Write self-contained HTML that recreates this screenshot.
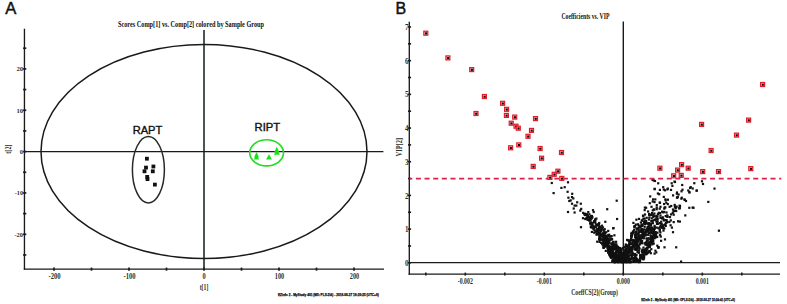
<!DOCTYPE html>
<html><head><meta charset="utf-8"><style>
html,body{margin:0;padding:0;background:#fff;}
body{width:787px;height:304px;overflow:hidden;font-family:"Liberation Sans",sans-serif;}
svg{display:block;}
</style></head><body>
<svg width="787" height="304" viewBox="0 0 787 304" shape-rendering="auto">
<text x="5.2" y="13.8" font-family="Liberation Sans" font-size="16.6" fill="#111" stroke="#111" stroke-width="0.45">A</text>
<text x="118" y="27.1" font-family="Liberation Serif" font-weight="bold" font-size="7.2" fill="#111" textLength="146" lengthAdjust="spacingAndGlyphs">Scores Comp[1] vs. Comp[2] colored by Sample Group</text>
<line x1="24.45" y1="28.7" x2="24.45" y2="269.75" stroke="#1a1a1a" stroke-width="1.35"/>
<line x1="23.8" y1="269.1" x2="384" y2="269.1" stroke="#1a1a1a" stroke-width="1.35"/>
<line x1="204" y1="30" x2="204" y2="269.2" stroke="#1e2a26" stroke-width="1.6"/>
<line x1="24.3" y1="151.6" x2="383.4" y2="151.6" stroke="#1a1a1a" stroke-width="1.45"/>
<line x1="23.1" y1="254.97" x2="26.3" y2="254.97" stroke="#1a1a1a" stroke-width="1.7"/>
<line x1="23.1" y1="234.30" x2="26.3" y2="234.30" stroke="#1a1a1a" stroke-width="1.7"/>
<line x1="23.1" y1="213.62" x2="26.3" y2="213.62" stroke="#1a1a1a" stroke-width="1.7"/>
<line x1="23.1" y1="192.95" x2="26.3" y2="192.95" stroke="#1a1a1a" stroke-width="1.7"/>
<line x1="23.1" y1="172.27" x2="26.3" y2="172.27" stroke="#1a1a1a" stroke-width="1.7"/>
<line x1="23.1" y1="151.60" x2="26.3" y2="151.60" stroke="#1a1a1a" stroke-width="1.7"/>
<line x1="23.1" y1="130.93" x2="26.3" y2="130.93" stroke="#1a1a1a" stroke-width="1.7"/>
<line x1="23.1" y1="110.25" x2="26.3" y2="110.25" stroke="#1a1a1a" stroke-width="1.7"/>
<line x1="23.1" y1="89.57" x2="26.3" y2="89.57" stroke="#1a1a1a" stroke-width="1.7"/>
<line x1="23.1" y1="68.90" x2="26.3" y2="68.90" stroke="#1a1a1a" stroke-width="1.7"/>
<line x1="23.1" y1="48.22" x2="26.3" y2="48.22" stroke="#1a1a1a" stroke-width="1.7"/>
<text x="23.0" y="71.35" text-anchor="end" font-family="Liberation Serif" font-weight="bold" font-size="7" fill="#2a302c" textLength="6.6" lengthAdjust="spacingAndGlyphs">20</text>
<text x="23.0" y="112.70" text-anchor="end" font-family="Liberation Serif" font-weight="bold" font-size="7" fill="#2a302c" textLength="6.6" lengthAdjust="spacingAndGlyphs">10</text>
<text x="23.0" y="154.05" text-anchor="end" font-family="Liberation Serif" font-weight="bold" font-size="7" fill="#2a302c" textLength="3.2" lengthAdjust="spacingAndGlyphs">0</text>
<text x="23.0" y="195.40" text-anchor="end" font-family="Liberation Serif" font-weight="bold" font-size="7" fill="#2a302c" textLength="8.2" lengthAdjust="spacingAndGlyphs">-10</text>
<text x="23.0" y="236.75" text-anchor="end" font-family="Liberation Serif" font-weight="bold" font-size="7" fill="#2a302c" textLength="8.6" lengthAdjust="spacingAndGlyphs">-20</text>
<line x1="54.00" y1="267.6" x2="54.00" y2="270.7" stroke="#1a1a1a" stroke-width="1.7"/>
<line x1="91.50" y1="267.6" x2="91.50" y2="270.7" stroke="#1a1a1a" stroke-width="1.7"/>
<line x1="129.00" y1="267.6" x2="129.00" y2="270.7" stroke="#1a1a1a" stroke-width="1.7"/>
<line x1="166.50" y1="267.6" x2="166.50" y2="270.7" stroke="#1a1a1a" stroke-width="1.7"/>
<line x1="204.00" y1="267.6" x2="204.00" y2="270.7" stroke="#1a1a1a" stroke-width="1.7"/>
<line x1="241.50" y1="267.6" x2="241.50" y2="270.7" stroke="#1a1a1a" stroke-width="1.7"/>
<line x1="279.00" y1="267.6" x2="279.00" y2="270.7" stroke="#1a1a1a" stroke-width="1.7"/>
<line x1="316.50" y1="267.6" x2="316.50" y2="270.7" stroke="#1a1a1a" stroke-width="1.7"/>
<line x1="354.00" y1="267.6" x2="354.00" y2="270.7" stroke="#1a1a1a" stroke-width="1.7"/>
<text x="54.60" y="278.9" text-anchor="middle" font-family="Liberation Serif" font-weight="bold" font-size="7.2" fill="#2a302c" textLength="12.2" lengthAdjust="spacingAndGlyphs">-200</text>
<text x="129.60" y="278.9" text-anchor="middle" font-family="Liberation Serif" font-weight="bold" font-size="7.2" fill="#2a302c" textLength="12.2" lengthAdjust="spacingAndGlyphs">-100</text>
<text x="204.00" y="278.9" text-anchor="middle" font-family="Liberation Serif" font-weight="bold" font-size="7.2" fill="#2a302c" textLength="3.2" lengthAdjust="spacingAndGlyphs">0</text>
<text x="279.50" y="278.9" text-anchor="middle" font-family="Liberation Serif" font-weight="bold" font-size="7.2" fill="#2a302c" textLength="9.4" lengthAdjust="spacingAndGlyphs">100</text>
<text x="354.50" y="278.9" text-anchor="middle" font-family="Liberation Serif" font-weight="bold" font-size="7.2" fill="#2a302c" textLength="9.4" lengthAdjust="spacingAndGlyphs">200</text>
<text x="204" y="290.3" text-anchor="middle" font-family="Liberation Serif" font-weight="bold" font-size="7.6" fill="#2a302c" textLength="8.6" lengthAdjust="spacingAndGlyphs">t[1]</text>
<text transform="translate(10.6,149.1) rotate(-90)" text-anchor="middle" font-family="Liberation Serif" font-weight="bold" font-size="7.6" fill="#2a302c" textLength="9.2" lengthAdjust="spacingAndGlyphs">t[2]</text>
<ellipse cx="204" cy="151.5" rx="163" ry="107" fill="none" stroke="#1a1a1a" stroke-width="1.5"/>
<ellipse cx="148.4" cy="169.7" rx="16" ry="33.2" fill="none" stroke="#262a2a" stroke-width="1.5"/>
<text x="132.7" y="133.5" font-family="Liberation Sans" font-size="11" fill="#111" stroke="#111" stroke-width="0.4" textLength="29.6" lengthAdjust="spacingAndGlyphs">RAPT</text>
<rect x="145.00" y="156.80" width="3.8" height="3.8" fill="#111"/>
<rect x="144.10" y="165.70" width="3.8" height="3.8" fill="#111"/>
<rect x="151.50" y="164.60" width="3.8" height="3.8" fill="#111"/>
<rect x="142.60" y="169.40" width="3.8" height="3.8" fill="#111"/>
<rect x="150.90" y="169.40" width="3.8" height="3.8" fill="#111"/>
<rect x="145.30" y="175.00" width="3.8" height="3.8" fill="#111"/>
<rect x="145.60" y="177.20" width="3.8" height="3.8" fill="#111"/>
<rect x="153.00" y="182.70" width="3.8" height="3.8" fill="#111"/>
<text x="254.6" y="130.5" font-family="Liberation Sans" font-size="11" fill="#111" stroke="#111" stroke-width="0.4" textLength="25.6" lengthAdjust="spacingAndGlyphs">RIPT</text>
<ellipse cx="266.6" cy="152.8" rx="16.9" ry="13.1" fill="none" stroke="#22dd22" stroke-width="1.6"/>
<polygon points="256.50,152.00 254.00,157.60 259.00,157.60" fill="#14e414"/>
<polygon points="256.50,154.00 253.90,159.50 259.10,159.50" fill="#14e414"/>
<polygon points="269.00,154.30 266.00,159.50 272.00,159.50" fill="#14e414"/>
<polygon points="276.80,146.80 274.10,152.60 279.50,152.60" fill="#14e414"/>
<polygon points="276.90,149.10 274.00,154.80 279.80,154.80" fill="#14e414"/>
<text x="278" y="295.5" font-family="Liberation Sans" font-weight="bold" font-size="3.4" fill="#111" stroke="#111" stroke-width="0.25" textLength="100.7" lengthAdjust="spacingAndGlyphs">EZinfo 2 - MyStudy 401 (M5: PLS-DA) - 2018-08-27 18:20:25 (UTC+8)</text>
<text x="395.6" y="13.6" font-family="Liberation Sans" font-size="16" fill="#111" stroke="#111" stroke-width="0.45">B</text>
<text x="561.4" y="19.1" font-family="Liberation Serif" font-weight="bold" font-size="7.3" fill="#111" textLength="48" lengthAdjust="spacingAndGlyphs">Coefficients vs. VIP</text>
<line x1="409.3" y1="21.7" x2="409.3" y2="274.75" stroke="#1a1a1a" stroke-width="1.35"/>
<line x1="408.6" y1="274.1" x2="780" y2="274.1" stroke="#1a1a1a" stroke-width="1.35"/>
<line x1="623.3" y1="21.6" x2="623.3" y2="274" stroke="#1a1a1a" stroke-width="1.4"/>
<line x1="409.3" y1="262.6" x2="780" y2="262.6" stroke="#1a1a1a" stroke-width="1.35"/>
<line x1="408" y1="262.80" x2="411.1" y2="262.80" stroke="#1a1a1a" stroke-width="1.6"/>
<line x1="408" y1="245.96" x2="411.1" y2="245.96" stroke="#1a1a1a" stroke-width="1.6"/>
<line x1="408" y1="229.11" x2="411.1" y2="229.11" stroke="#1a1a1a" stroke-width="1.6"/>
<line x1="408" y1="212.27" x2="411.1" y2="212.27" stroke="#1a1a1a" stroke-width="1.6"/>
<line x1="408" y1="195.42" x2="411.1" y2="195.42" stroke="#1a1a1a" stroke-width="1.6"/>
<line x1="408" y1="178.58" x2="411.1" y2="178.58" stroke="#1a1a1a" stroke-width="1.6"/>
<line x1="408" y1="161.73" x2="411.1" y2="161.73" stroke="#1a1a1a" stroke-width="1.6"/>
<line x1="408" y1="144.89" x2="411.1" y2="144.89" stroke="#1a1a1a" stroke-width="1.6"/>
<line x1="408" y1="128.04" x2="411.1" y2="128.04" stroke="#1a1a1a" stroke-width="1.6"/>
<line x1="408" y1="111.20" x2="411.1" y2="111.20" stroke="#1a1a1a" stroke-width="1.6"/>
<line x1="408" y1="94.35" x2="411.1" y2="94.35" stroke="#1a1a1a" stroke-width="1.6"/>
<line x1="408" y1="77.51" x2="411.1" y2="77.51" stroke="#1a1a1a" stroke-width="1.6"/>
<line x1="408" y1="60.66" x2="411.1" y2="60.66" stroke="#1a1a1a" stroke-width="1.6"/>
<line x1="408" y1="43.82" x2="411.1" y2="43.82" stroke="#1a1a1a" stroke-width="1.6"/>
<line x1="408" y1="26.97" x2="411.1" y2="26.97" stroke="#1a1a1a" stroke-width="1.6"/>
<text x="408.5" y="265.90" text-anchor="end" font-family="Liberation Serif" font-weight="bold" font-size="7.6" fill="#2a302c" textLength="3.5" lengthAdjust="spacingAndGlyphs">0</text>
<text x="408.5" y="232.21" text-anchor="end" font-family="Liberation Serif" font-weight="bold" font-size="7.6" fill="#2a302c" textLength="3.5" lengthAdjust="spacingAndGlyphs">1</text>
<text x="408.5" y="198.52" text-anchor="end" font-family="Liberation Serif" font-weight="bold" font-size="7.6" fill="#2a302c" textLength="3.5" lengthAdjust="spacingAndGlyphs">2</text>
<text x="408.5" y="164.83" text-anchor="end" font-family="Liberation Serif" font-weight="bold" font-size="7.6" fill="#2a302c" textLength="3.5" lengthAdjust="spacingAndGlyphs">3</text>
<text x="408.5" y="131.14" text-anchor="end" font-family="Liberation Serif" font-weight="bold" font-size="7.6" fill="#2a302c" textLength="3.5" lengthAdjust="spacingAndGlyphs">4</text>
<text x="408.5" y="97.45" text-anchor="end" font-family="Liberation Serif" font-weight="bold" font-size="7.6" fill="#2a302c" textLength="3.5" lengthAdjust="spacingAndGlyphs">5</text>
<text x="408.5" y="63.76" text-anchor="end" font-family="Liberation Serif" font-weight="bold" font-size="7.6" fill="#2a302c" textLength="3.5" lengthAdjust="spacingAndGlyphs">6</text>
<text x="408.5" y="30.07" text-anchor="end" font-family="Liberation Serif" font-weight="bold" font-size="7.6" fill="#2a302c" textLength="3.5" lengthAdjust="spacingAndGlyphs">7</text>
<line x1="425.80" y1="272.6" x2="425.80" y2="275.6" stroke="#1a1a1a" stroke-width="1.6"/>
<line x1="465.30" y1="272.6" x2="465.30" y2="275.6" stroke="#1a1a1a" stroke-width="1.6"/>
<line x1="504.80" y1="272.6" x2="504.80" y2="275.6" stroke="#1a1a1a" stroke-width="1.6"/>
<line x1="544.30" y1="272.6" x2="544.30" y2="275.6" stroke="#1a1a1a" stroke-width="1.6"/>
<line x1="583.80" y1="272.6" x2="583.80" y2="275.6" stroke="#1a1a1a" stroke-width="1.6"/>
<line x1="623.30" y1="272.6" x2="623.30" y2="275.6" stroke="#1a1a1a" stroke-width="1.6"/>
<line x1="662.80" y1="272.6" x2="662.80" y2="275.6" stroke="#1a1a1a" stroke-width="1.6"/>
<line x1="702.30" y1="272.6" x2="702.30" y2="275.6" stroke="#1a1a1a" stroke-width="1.6"/>
<line x1="741.80" y1="272.6" x2="741.80" y2="275.6" stroke="#1a1a1a" stroke-width="1.6"/>
<text x="465.30" y="283.9" text-anchor="middle" font-family="Liberation Serif" font-weight="bold" font-size="7.4" fill="#2a302c" textLength="15" lengthAdjust="spacingAndGlyphs">-0.002</text>
<text x="544.30" y="283.9" text-anchor="middle" font-family="Liberation Serif" font-weight="bold" font-size="7.4" fill="#2a302c" textLength="15" lengthAdjust="spacingAndGlyphs">-0.001</text>
<text x="623.30" y="283.9" text-anchor="middle" font-family="Liberation Serif" font-weight="bold" font-size="7.4" fill="#2a302c" textLength="13.3" lengthAdjust="spacingAndGlyphs">0.000</text>
<text x="702.30" y="283.9" text-anchor="middle" font-family="Liberation Serif" font-weight="bold" font-size="7.4" fill="#2a302c" textLength="13.3" lengthAdjust="spacingAndGlyphs">0.001</text>
<text x="571.3" y="295.3" font-family="Liberation Serif" font-weight="bold" font-size="7.2" fill="#2a302c" textLength="46.6" lengthAdjust="spacingAndGlyphs">CoeffCS[2](Group)</text>
<text transform="translate(402,147.2) rotate(-90)" text-anchor="middle" font-family="Liberation Serif" font-weight="bold" font-size="7.2" fill="#2a302c" textLength="18.7" lengthAdjust="spacingAndGlyphs">VIP[2]</text>
<text x="641.2" y="301.3" font-family="Liberation Sans" font-weight="bold" font-size="3.4" fill="#111" stroke="#111" stroke-width="0.25" textLength="93.7" lengthAdjust="spacingAndGlyphs">EZinfo 2 - MyStudy 401 (M6: OPLS-DA) - 2018-08-27 15:24:41 (UTC+8)</text>
<rect x="613.7" y="261.1" width="2.2" height="2.2" fill="#111"/>
<rect x="616.6" y="261.2" width="2.2" height="2.2" fill="#111"/>
<rect x="620.4" y="261.2" width="2.2" height="2.2" fill="#111"/>
<rect x="613.5" y="261.2" width="2.2" height="2.2" fill="#111"/>
<rect x="624.1" y="261.1" width="2.2" height="2.2" fill="#111"/>
<rect x="625.8" y="261.1" width="2.2" height="2.2" fill="#111"/>
<rect x="617.9" y="261.0" width="2.2" height="2.2" fill="#111"/>
<rect x="613.6" y="260.8" width="2.2" height="2.2" fill="#111"/>
<rect x="616.3" y="260.6" width="2.2" height="2.2" fill="#111"/>
<rect x="619.9" y="260.7" width="2.2" height="2.2" fill="#111"/>
<rect x="619.8" y="260.8" width="2.2" height="2.2" fill="#111"/>
<rect x="621.4" y="260.7" width="2.2" height="2.2" fill="#111"/>
<rect x="614.8" y="260.8" width="2.2" height="2.2" fill="#111"/>
<rect x="622.1" y="260.6" width="2.2" height="2.2" fill="#111"/>
<rect x="616.9" y="260.0" width="2.2" height="2.2" fill="#111"/>
<rect x="615.1" y="259.9" width="2.2" height="2.2" fill="#111"/>
<rect x="611.2" y="260.3" width="2.2" height="2.2" fill="#111"/>
<rect x="619.4" y="260.4" width="2.2" height="2.2" fill="#111"/>
<rect x="621.0" y="260.0" width="2.2" height="2.2" fill="#111"/>
<rect x="614.2" y="260.1" width="2.2" height="2.2" fill="#111"/>
<rect x="618.5" y="260.0" width="2.2" height="2.2" fill="#111"/>
<rect x="617.2" y="259.6" width="2.2" height="2.2" fill="#111"/>
<rect x="611.5" y="259.4" width="2.2" height="2.2" fill="#111"/>
<rect x="621.0" y="259.8" width="2.2" height="2.2" fill="#111"/>
<rect x="616.5" y="259.7" width="2.2" height="2.2" fill="#111"/>
<rect x="613.3" y="259.8" width="2.2" height="2.2" fill="#111"/>
<rect x="612.1" y="259.8" width="2.2" height="2.2" fill="#111"/>
<rect x="616.0" y="259.5" width="2.2" height="2.2" fill="#111"/>
<rect x="614.7" y="259.0" width="2.2" height="2.2" fill="#111"/>
<rect x="622.4" y="259.3" width="2.2" height="2.2" fill="#111"/>
<rect x="615.1" y="258.9" width="2.2" height="2.2" fill="#111"/>
<rect x="615.2" y="259.3" width="2.2" height="2.2" fill="#111"/>
<rect x="614.4" y="259.1" width="2.2" height="2.2" fill="#111"/>
<rect x="616.2" y="259.4" width="2.2" height="2.2" fill="#111"/>
<rect x="615.7" y="258.9" width="2.2" height="2.2" fill="#111"/>
<rect x="619.3" y="258.6" width="2.2" height="2.2" fill="#111"/>
<rect x="622.9" y="258.5" width="2.2" height="2.2" fill="#111"/>
<rect x="624.0" y="258.5" width="2.2" height="2.2" fill="#111"/>
<rect x="615.8" y="258.6" width="2.2" height="2.2" fill="#111"/>
<rect x="612.0" y="258.9" width="2.2" height="2.2" fill="#111"/>
<rect x="614.3" y="258.9" width="2.2" height="2.2" fill="#111"/>
<rect x="611.7" y="258.8" width="2.2" height="2.2" fill="#111"/>
<rect x="618.3" y="258.1" width="2.2" height="2.2" fill="#111"/>
<rect x="613.0" y="258.3" width="2.2" height="2.2" fill="#111"/>
<rect x="615.0" y="258.0" width="2.2" height="2.2" fill="#111"/>
<rect x="625.1" y="258.2" width="2.2" height="2.2" fill="#111"/>
<rect x="617.9" y="258.2" width="2.2" height="2.2" fill="#111"/>
<rect x="614.6" y="258.0" width="2.2" height="2.2" fill="#111"/>
<rect x="616.0" y="258.1" width="2.2" height="2.2" fill="#111"/>
<rect x="618.5" y="257.9" width="2.2" height="2.2" fill="#111"/>
<rect x="620.4" y="257.6" width="2.2" height="2.2" fill="#111"/>
<rect x="613.6" y="257.7" width="2.2" height="2.2" fill="#111"/>
<rect x="612.9" y="257.5" width="2.2" height="2.2" fill="#111"/>
<rect x="613.4" y="257.8" width="2.2" height="2.2" fill="#111"/>
<rect x="624.3" y="257.5" width="2.2" height="2.2" fill="#111"/>
<rect x="621.7" y="257.5" width="2.2" height="2.2" fill="#111"/>
<rect x="617.2" y="257.4" width="2.2" height="2.2" fill="#111"/>
<rect x="614.3" y="257.3" width="2.2" height="2.2" fill="#111"/>
<rect x="621.3" y="256.9" width="2.2" height="2.2" fill="#111"/>
<rect x="623.7" y="256.9" width="2.2" height="2.2" fill="#111"/>
<rect x="615.4" y="257.3" width="2.2" height="2.2" fill="#111"/>
<rect x="613.9" y="257.1" width="2.2" height="2.2" fill="#111"/>
<rect x="623.7" y="257.1" width="2.2" height="2.2" fill="#111"/>
<rect x="609.8" y="256.6" width="2.2" height="2.2" fill="#111"/>
<rect x="623.2" y="256.7" width="2.2" height="2.2" fill="#111"/>
<rect x="610.2" y="256.5" width="2.2" height="2.2" fill="#111"/>
<rect x="615.6" y="256.7" width="2.2" height="2.2" fill="#111"/>
<rect x="612.2" y="256.4" width="2.2" height="2.2" fill="#111"/>
<rect x="620.5" y="256.8" width="2.2" height="2.2" fill="#111"/>
<rect x="623.3" y="256.5" width="2.2" height="2.2" fill="#111"/>
<rect x="623.3" y="256.2" width="2.2" height="2.2" fill="#111"/>
<rect x="617.2" y="256.3" width="2.2" height="2.2" fill="#111"/>
<rect x="611.6" y="256.1" width="2.2" height="2.2" fill="#111"/>
<rect x="622.6" y="256.2" width="2.2" height="2.2" fill="#111"/>
<rect x="622.5" y="256.3" width="2.2" height="2.2" fill="#111"/>
<rect x="613.0" y="256.3" width="2.2" height="2.2" fill="#111"/>
<rect x="617.9" y="256.3" width="2.2" height="2.2" fill="#111"/>
<rect x="624.0" y="256.2" width="2.2" height="2.2" fill="#111"/>
<rect x="618.8" y="255.4" width="2.2" height="2.2" fill="#111"/>
<rect x="615.8" y="255.6" width="2.2" height="2.2" fill="#111"/>
<rect x="618.2" y="255.8" width="2.2" height="2.2" fill="#111"/>
<rect x="609.6" y="255.5" width="2.2" height="2.2" fill="#111"/>
<rect x="609.7" y="255.6" width="2.2" height="2.2" fill="#111"/>
<rect x="614.4" y="255.6" width="2.2" height="2.2" fill="#111"/>
<rect x="617.4" y="255.6" width="2.2" height="2.2" fill="#111"/>
<rect x="612.5" y="255.0" width="2.2" height="2.2" fill="#111"/>
<rect x="614.4" y="254.9" width="2.2" height="2.2" fill="#111"/>
<rect x="614.7" y="255.1" width="2.2" height="2.2" fill="#111"/>
<rect x="614.4" y="255.2" width="2.2" height="2.2" fill="#111"/>
<rect x="616.6" y="255.2" width="2.2" height="2.2" fill="#111"/>
<rect x="621.8" y="254.9" width="2.2" height="2.2" fill="#111"/>
<rect x="610.3" y="255.1" width="2.2" height="2.2" fill="#111"/>
<rect x="621.4" y="254.7" width="2.2" height="2.2" fill="#111"/>
<rect x="610.4" y="254.8" width="2.2" height="2.2" fill="#111"/>
<rect x="608.8" y="254.5" width="2.2" height="2.2" fill="#111"/>
<rect x="609.1" y="254.5" width="2.2" height="2.2" fill="#111"/>
<rect x="620.1" y="254.4" width="2.2" height="2.2" fill="#111"/>
<rect x="614.1" y="254.4" width="2.2" height="2.2" fill="#111"/>
<rect x="610.7" y="254.5" width="2.2" height="2.2" fill="#111"/>
<rect x="615.2" y="254.1" width="2.2" height="2.2" fill="#111"/>
<rect x="613.9" y="254.0" width="2.2" height="2.2" fill="#111"/>
<rect x="610.0" y="254.1" width="2.2" height="2.2" fill="#111"/>
<rect x="616.2" y="254.1" width="2.2" height="2.2" fill="#111"/>
<rect x="616.2" y="254.4" width="2.2" height="2.2" fill="#111"/>
<rect x="623.7" y="254.3" width="2.2" height="2.2" fill="#111"/>
<rect x="609.1" y="254.4" width="2.2" height="2.2" fill="#111"/>
<rect x="619.8" y="254.2" width="2.2" height="2.2" fill="#111"/>
<rect x="621.0" y="253.8" width="2.2" height="2.2" fill="#111"/>
<rect x="612.0" y="253.5" width="2.2" height="2.2" fill="#111"/>
<rect x="608.9" y="253.9" width="2.2" height="2.2" fill="#111"/>
<rect x="617.9" y="253.4" width="2.2" height="2.2" fill="#111"/>
<rect x="617.8" y="253.5" width="2.2" height="2.2" fill="#111"/>
<rect x="609.9" y="253.5" width="2.2" height="2.2" fill="#111"/>
<rect x="614.6" y="253.7" width="2.2" height="2.2" fill="#111"/>
<rect x="621.4" y="253.1" width="2.2" height="2.2" fill="#111"/>
<rect x="612.2" y="253.3" width="2.2" height="2.2" fill="#111"/>
<rect x="611.2" y="253.2" width="2.2" height="2.2" fill="#111"/>
<rect x="612.8" y="253.0" width="2.2" height="2.2" fill="#111"/>
<rect x="611.5" y="253.2" width="2.2" height="2.2" fill="#111"/>
<rect x="608.3" y="253.3" width="2.2" height="2.2" fill="#111"/>
<rect x="608.1" y="253.3" width="2.2" height="2.2" fill="#111"/>
<rect x="619.6" y="252.8" width="2.2" height="2.2" fill="#111"/>
<rect x="618.2" y="252.5" width="2.2" height="2.2" fill="#111"/>
<rect x="614.1" y="252.6" width="2.2" height="2.2" fill="#111"/>
<rect x="618.9" y="252.5" width="2.2" height="2.2" fill="#111"/>
<rect x="617.8" y="252.6" width="2.2" height="2.2" fill="#111"/>
<rect x="613.3" y="252.8" width="2.2" height="2.2" fill="#111"/>
<rect x="609.1" y="252.5" width="2.2" height="2.2" fill="#111"/>
<rect x="611.9" y="252.0" width="2.2" height="2.2" fill="#111"/>
<rect x="618.3" y="252.3" width="2.2" height="2.2" fill="#111"/>
<rect x="610.5" y="252.3" width="2.2" height="2.2" fill="#111"/>
<rect x="615.2" y="252.3" width="2.2" height="2.2" fill="#111"/>
<rect x="622.9" y="252.3" width="2.2" height="2.2" fill="#111"/>
<rect x="621.1" y="252.2" width="2.2" height="2.2" fill="#111"/>
<rect x="613.8" y="252.2" width="2.2" height="2.2" fill="#111"/>
<rect x="610.0" y="251.6" width="2.2" height="2.2" fill="#111"/>
<rect x="607.1" y="251.7" width="2.2" height="2.2" fill="#111"/>
<rect x="608.3" y="251.9" width="2.2" height="2.2" fill="#111"/>
<rect x="611.7" y="251.6" width="2.2" height="2.2" fill="#111"/>
<rect x="619.6" y="251.6" width="2.2" height="2.2" fill="#111"/>
<rect x="618.3" y="251.7" width="2.2" height="2.2" fill="#111"/>
<rect x="620.4" y="251.8" width="2.2" height="2.2" fill="#111"/>
<rect x="618.4" y="251.0" width="2.2" height="2.2" fill="#111"/>
<rect x="616.4" y="251.0" width="2.2" height="2.2" fill="#111"/>
<rect x="619.4" y="251.1" width="2.2" height="2.2" fill="#111"/>
<rect x="620.0" y="251.0" width="2.2" height="2.2" fill="#111"/>
<rect x="616.3" y="251.1" width="2.2" height="2.2" fill="#111"/>
<rect x="615.3" y="251.3" width="2.2" height="2.2" fill="#111"/>
<rect x="608.1" y="251.3" width="2.2" height="2.2" fill="#111"/>
<rect x="615.4" y="250.6" width="2.2" height="2.2" fill="#111"/>
<rect x="614.8" y="250.9" width="2.2" height="2.2" fill="#111"/>
<rect x="616.5" y="250.5" width="2.2" height="2.2" fill="#111"/>
<rect x="611.8" y="250.9" width="2.2" height="2.2" fill="#111"/>
<rect x="616.6" y="250.8" width="2.2" height="2.2" fill="#111"/>
<rect x="607.3" y="250.8" width="2.2" height="2.2" fill="#111"/>
<rect x="619.1" y="250.4" width="2.2" height="2.2" fill="#111"/>
<rect x="609.6" y="250.0" width="2.2" height="2.2" fill="#111"/>
<rect x="615.2" y="250.1" width="2.2" height="2.2" fill="#111"/>
<rect x="607.9" y="250.0" width="2.2" height="2.2" fill="#111"/>
<rect x="611.3" y="250.1" width="2.2" height="2.2" fill="#111"/>
<rect x="607.3" y="250.1" width="2.2" height="2.2" fill="#111"/>
<rect x="616.4" y="250.1" width="2.2" height="2.2" fill="#111"/>
<rect x="608.8" y="250.2" width="2.2" height="2.2" fill="#111"/>
<rect x="618.4" y="249.8" width="2.2" height="2.2" fill="#111"/>
<rect x="620.0" y="249.7" width="2.2" height="2.2" fill="#111"/>
<rect x="617.4" y="249.4" width="2.2" height="2.2" fill="#111"/>
<rect x="612.1" y="249.4" width="2.2" height="2.2" fill="#111"/>
<rect x="609.7" y="249.6" width="2.2" height="2.2" fill="#111"/>
<rect x="604.7" y="249.8" width="2.2" height="2.2" fill="#111"/>
<rect x="617.0" y="249.6" width="2.2" height="2.2" fill="#111"/>
<rect x="615.8" y="249.2" width="2.2" height="2.2" fill="#111"/>
<rect x="608.6" y="249.4" width="2.2" height="2.2" fill="#111"/>
<rect x="611.4" y="249.3" width="2.2" height="2.2" fill="#111"/>
<rect x="610.7" y="249.2" width="2.2" height="2.2" fill="#111"/>
<rect x="619.6" y="249.0" width="2.2" height="2.2" fill="#111"/>
<rect x="607.2" y="248.9" width="2.2" height="2.2" fill="#111"/>
<rect x="617.6" y="248.7" width="2.2" height="2.2" fill="#111"/>
<rect x="620.5" y="248.6" width="2.2" height="2.2" fill="#111"/>
<rect x="609.3" y="248.9" width="2.2" height="2.2" fill="#111"/>
<rect x="607.1" y="248.5" width="2.2" height="2.2" fill="#111"/>
<rect x="610.1" y="248.8" width="2.2" height="2.2" fill="#111"/>
<rect x="612.0" y="248.8" width="2.2" height="2.2" fill="#111"/>
<rect x="620.1" y="248.1" width="2.2" height="2.2" fill="#111"/>
<rect x="616.2" y="247.9" width="2.2" height="2.2" fill="#111"/>
<rect x="612.5" y="248.0" width="2.2" height="2.2" fill="#111"/>
<rect x="610.8" y="248.0" width="2.2" height="2.2" fill="#111"/>
<rect x="613.9" y="247.9" width="2.2" height="2.2" fill="#111"/>
<rect x="607.1" y="248.2" width="2.2" height="2.2" fill="#111"/>
<rect x="609.1" y="247.9" width="2.2" height="2.2" fill="#111"/>
<rect x="615.8" y="247.7" width="2.2" height="2.2" fill="#111"/>
<rect x="611.8" y="247.8" width="2.2" height="2.2" fill="#111"/>
<rect x="608.0" y="247.4" width="2.2" height="2.2" fill="#111"/>
<rect x="612.1" y="247.4" width="2.2" height="2.2" fill="#111"/>
<rect x="613.7" y="247.8" width="2.2" height="2.2" fill="#111"/>
<rect x="608.3" y="247.9" width="2.2" height="2.2" fill="#111"/>
<rect x="608.5" y="247.8" width="2.2" height="2.2" fill="#111"/>
<rect x="616.7" y="247.2" width="2.2" height="2.2" fill="#111"/>
<rect x="610.2" y="247.2" width="2.2" height="2.2" fill="#111"/>
<rect x="609.9" y="246.9" width="2.2" height="2.2" fill="#111"/>
<rect x="606.4" y="247.1" width="2.2" height="2.2" fill="#111"/>
<rect x="613.6" y="247.3" width="2.2" height="2.2" fill="#111"/>
<rect x="607.0" y="247.2" width="2.2" height="2.2" fill="#111"/>
<rect x="618.8" y="246.9" width="2.2" height="2.2" fill="#111"/>
<rect x="602.2" y="246.5" width="2.2" height="2.2" fill="#111"/>
<rect x="614.7" y="246.9" width="2.2" height="2.2" fill="#111"/>
<rect x="609.7" y="246.4" width="2.2" height="2.2" fill="#111"/>
<rect x="617.6" y="246.8" width="2.2" height="2.2" fill="#111"/>
<rect x="602.7" y="246.8" width="2.2" height="2.2" fill="#111"/>
<rect x="615.0" y="246.1" width="2.2" height="2.2" fill="#111"/>
<rect x="613.5" y="246.2" width="2.2" height="2.2" fill="#111"/>
<rect x="613.4" y="246.3" width="2.2" height="2.2" fill="#111"/>
<rect x="616.9" y="246.1" width="2.2" height="2.2" fill="#111"/>
<rect x="608.5" y="246.1" width="2.2" height="2.2" fill="#111"/>
<rect x="614.0" y="246.3" width="2.2" height="2.2" fill="#111"/>
<rect x="609.4" y="245.8" width="2.2" height="2.2" fill="#111"/>
<rect x="610.9" y="245.9" width="2.2" height="2.2" fill="#111"/>
<rect x="604.2" y="245.6" width="2.2" height="2.2" fill="#111"/>
<rect x="616.2" y="245.7" width="2.2" height="2.2" fill="#111"/>
<rect x="606.6" y="245.5" width="2.2" height="2.2" fill="#111"/>
<rect x="610.8" y="245.9" width="2.2" height="2.2" fill="#111"/>
<rect x="611.3" y="245.1" width="2.2" height="2.2" fill="#111"/>
<rect x="616.1" y="245.3" width="2.2" height="2.2" fill="#111"/>
<rect x="602.7" y="245.1" width="2.2" height="2.2" fill="#111"/>
<rect x="606.8" y="245.0" width="2.2" height="2.2" fill="#111"/>
<rect x="612.2" y="244.9" width="2.2" height="2.2" fill="#111"/>
<rect x="607.2" y="245.0" width="2.2" height="2.2" fill="#111"/>
<rect x="605.7" y="244.4" width="2.2" height="2.2" fill="#111"/>
<rect x="608.3" y="244.8" width="2.2" height="2.2" fill="#111"/>
<rect x="604.0" y="244.4" width="2.2" height="2.2" fill="#111"/>
<rect x="605.6" y="244.7" width="2.2" height="2.2" fill="#111"/>
<rect x="606.2" y="244.9" width="2.2" height="2.2" fill="#111"/>
<rect x="603.3" y="244.7" width="2.2" height="2.2" fill="#111"/>
<rect x="613.7" y="243.9" width="2.2" height="2.2" fill="#111"/>
<rect x="602.3" y="244.3" width="2.2" height="2.2" fill="#111"/>
<rect x="614.8" y="244.1" width="2.2" height="2.2" fill="#111"/>
<rect x="607.1" y="244.2" width="2.2" height="2.2" fill="#111"/>
<rect x="606.8" y="244.3" width="2.2" height="2.2" fill="#111"/>
<rect x="614.8" y="243.8" width="2.2" height="2.2" fill="#111"/>
<rect x="615.1" y="243.5" width="2.2" height="2.2" fill="#111"/>
<rect x="614.1" y="243.7" width="2.2" height="2.2" fill="#111"/>
<rect x="601.4" y="243.4" width="2.2" height="2.2" fill="#111"/>
<rect x="604.8" y="243.7" width="2.2" height="2.2" fill="#111"/>
<rect x="615.2" y="243.5" width="2.2" height="2.2" fill="#111"/>
<rect x="602.5" y="243.4" width="2.2" height="2.2" fill="#111"/>
<rect x="603.4" y="243.0" width="2.2" height="2.2" fill="#111"/>
<rect x="613.0" y="243.2" width="2.2" height="2.2" fill="#111"/>
<rect x="607.0" y="243.3" width="2.2" height="2.2" fill="#111"/>
<rect x="610.6" y="243.2" width="2.2" height="2.2" fill="#111"/>
<rect x="601.6" y="242.6" width="2.2" height="2.2" fill="#111"/>
<rect x="610.8" y="242.9" width="2.2" height="2.2" fill="#111"/>
<rect x="601.2" y="242.4" width="2.2" height="2.2" fill="#111"/>
<rect x="606.9" y="242.8" width="2.2" height="2.2" fill="#111"/>
<rect x="604.0" y="242.8" width="2.2" height="2.2" fill="#111"/>
<rect x="612.0" y="242.5" width="2.2" height="2.2" fill="#111"/>
<rect x="610.1" y="242.2" width="2.2" height="2.2" fill="#111"/>
<rect x="605.0" y="242.0" width="2.2" height="2.2" fill="#111"/>
<rect x="602.8" y="242.3" width="2.2" height="2.2" fill="#111"/>
<rect x="604.0" y="242.4" width="2.2" height="2.2" fill="#111"/>
<rect x="606.5" y="242.0" width="2.2" height="2.2" fill="#111"/>
<rect x="607.4" y="241.9" width="2.2" height="2.2" fill="#111"/>
<rect x="600.0" y="241.7" width="2.2" height="2.2" fill="#111"/>
<rect x="603.8" y="241.7" width="2.2" height="2.2" fill="#111"/>
<rect x="607.7" y="241.5" width="2.2" height="2.2" fill="#111"/>
<rect x="607.3" y="241.8" width="2.2" height="2.2" fill="#111"/>
<rect x="603.0" y="241.0" width="2.2" height="2.2" fill="#111"/>
<rect x="602.5" y="241.3" width="2.2" height="2.2" fill="#111"/>
<rect x="605.1" y="241.1" width="2.2" height="2.2" fill="#111"/>
<rect x="606.8" y="241.2" width="2.2" height="2.2" fill="#111"/>
<rect x="612.1" y="241.0" width="2.2" height="2.2" fill="#111"/>
<rect x="612.5" y="240.8" width="2.2" height="2.2" fill="#111"/>
<rect x="607.1" y="240.4" width="2.2" height="2.2" fill="#111"/>
<rect x="598.4" y="240.8" width="2.2" height="2.2" fill="#111"/>
<rect x="602.9" y="240.6" width="2.2" height="2.2" fill="#111"/>
<rect x="615.0" y="240.7" width="2.2" height="2.2" fill="#111"/>
<rect x="605.3" y="239.9" width="2.2" height="2.2" fill="#111"/>
<rect x="603.4" y="240.1" width="2.2" height="2.2" fill="#111"/>
<rect x="607.8" y="240.3" width="2.2" height="2.2" fill="#111"/>
<rect x="603.6" y="240.3" width="2.2" height="2.2" fill="#111"/>
<rect x="607.6" y="239.7" width="2.2" height="2.2" fill="#111"/>
<rect x="608.0" y="239.8" width="2.2" height="2.2" fill="#111"/>
<rect x="604.0" y="239.6" width="2.2" height="2.2" fill="#111"/>
<rect x="602.5" y="239.8" width="2.2" height="2.2" fill="#111"/>
<rect x="602.6" y="239.9" width="2.2" height="2.2" fill="#111"/>
<rect x="607.1" y="239.2" width="2.2" height="2.2" fill="#111"/>
<rect x="601.5" y="239.2" width="2.2" height="2.2" fill="#111"/>
<rect x="609.1" y="239.2" width="2.2" height="2.2" fill="#111"/>
<rect x="607.1" y="239.2" width="2.2" height="2.2" fill="#111"/>
<rect x="598.3" y="239.0" width="2.2" height="2.2" fill="#111"/>
<rect x="600.1" y="238.5" width="2.2" height="2.2" fill="#111"/>
<rect x="603.0" y="238.5" width="2.2" height="2.2" fill="#111"/>
<rect x="604.5" y="238.6" width="2.2" height="2.2" fill="#111"/>
<rect x="606.8" y="238.4" width="2.2" height="2.2" fill="#111"/>
<rect x="599.1" y="238.6" width="2.2" height="2.2" fill="#111"/>
<rect x="601.1" y="238.1" width="2.2" height="2.2" fill="#111"/>
<rect x="610.8" y="238.0" width="2.2" height="2.2" fill="#111"/>
<rect x="611.0" y="238.3" width="2.2" height="2.2" fill="#111"/>
<rect x="603.4" y="238.2" width="2.2" height="2.2" fill="#111"/>
<rect x="598.0" y="237.9" width="2.2" height="2.2" fill="#111"/>
<rect x="607.2" y="237.8" width="2.2" height="2.2" fill="#111"/>
<rect x="605.9" y="237.8" width="2.2" height="2.2" fill="#111"/>
<rect x="604.4" y="237.8" width="2.2" height="2.2" fill="#111"/>
<rect x="598.8" y="237.7" width="2.2" height="2.2" fill="#111"/>
<rect x="603.1" y="237.0" width="2.2" height="2.2" fill="#111"/>
<rect x="609.1" y="237.4" width="2.2" height="2.2" fill="#111"/>
<rect x="604.5" y="237.0" width="2.2" height="2.2" fill="#111"/>
<rect x="598.9" y="237.1" width="2.2" height="2.2" fill="#111"/>
<rect x="604.4" y="236.6" width="2.2" height="2.2" fill="#111"/>
<rect x="603.8" y="236.6" width="2.2" height="2.2" fill="#111"/>
<rect x="602.5" y="236.6" width="2.2" height="2.2" fill="#111"/>
<rect x="603.4" y="236.8" width="2.2" height="2.2" fill="#111"/>
<rect x="605.5" y="236.2" width="2.2" height="2.2" fill="#111"/>
<rect x="598.7" y="236.3" width="2.2" height="2.2" fill="#111"/>
<rect x="603.4" y="236.1" width="2.2" height="2.2" fill="#111"/>
<rect x="598.5" y="236.1" width="2.2" height="2.2" fill="#111"/>
<rect x="605.6" y="235.9" width="2.2" height="2.2" fill="#111"/>
<rect x="601.2" y="235.7" width="2.2" height="2.2" fill="#111"/>
<rect x="609.5" y="235.4" width="2.2" height="2.2" fill="#111"/>
<rect x="607.3" y="235.5" width="2.2" height="2.2" fill="#111"/>
<rect x="604.5" y="234.9" width="2.2" height="2.2" fill="#111"/>
<rect x="598.6" y="235.0" width="2.2" height="2.2" fill="#111"/>
<rect x="608.3" y="235.0" width="2.2" height="2.2" fill="#111"/>
<rect x="598.9" y="235.0" width="2.2" height="2.2" fill="#111"/>
<rect x="606.4" y="234.4" width="2.2" height="2.2" fill="#111"/>
<rect x="599.8" y="234.8" width="2.2" height="2.2" fill="#111"/>
<rect x="601.8" y="234.8" width="2.2" height="2.2" fill="#111"/>
<rect x="598.4" y="234.4" width="2.2" height="2.2" fill="#111"/>
<rect x="607.1" y="234.3" width="2.2" height="2.2" fill="#111"/>
<rect x="603.9" y="234.1" width="2.2" height="2.2" fill="#111"/>
<rect x="601.1" y="234.1" width="2.2" height="2.2" fill="#111"/>
<rect x="595.5" y="233.4" width="2.2" height="2.2" fill="#111"/>
<rect x="600.8" y="233.8" width="2.2" height="2.2" fill="#111"/>
<rect x="608.1" y="233.6" width="2.2" height="2.2" fill="#111"/>
<rect x="603.0" y="233.0" width="2.2" height="2.2" fill="#111"/>
<rect x="596.1" y="233.0" width="2.2" height="2.2" fill="#111"/>
<rect x="595.6" y="233.1" width="2.2" height="2.2" fill="#111"/>
<rect x="599.7" y="233.2" width="2.2" height="2.2" fill="#111"/>
<rect x="596.3" y="232.7" width="2.2" height="2.2" fill="#111"/>
<rect x="602.0" y="232.5" width="2.2" height="2.2" fill="#111"/>
<rect x="596.6" y="232.9" width="2.2" height="2.2" fill="#111"/>
<rect x="596.8" y="232.7" width="2.2" height="2.2" fill="#111"/>
<rect x="598.7" y="232.1" width="2.2" height="2.2" fill="#111"/>
<rect x="598.5" y="232.1" width="2.2" height="2.2" fill="#111"/>
<rect x="601.8" y="232.3" width="2.2" height="2.2" fill="#111"/>
<rect x="598.5" y="232.4" width="2.2" height="2.2" fill="#111"/>
<rect x="603.9" y="231.8" width="2.2" height="2.2" fill="#111"/>
<rect x="593.1" y="231.6" width="2.2" height="2.2" fill="#111"/>
<rect x="599.2" y="231.7" width="2.2" height="2.2" fill="#111"/>
<rect x="603.3" y="231.3" width="2.2" height="2.2" fill="#111"/>
<rect x="605.2" y="231.2" width="2.2" height="2.2" fill="#111"/>
<rect x="596.9" y="231.4" width="2.2" height="2.2" fill="#111"/>
<rect x="590.8" y="230.8" width="2.2" height="2.2" fill="#111"/>
<rect x="594.7" y="230.6" width="2.2" height="2.2" fill="#111"/>
<rect x="597.5" y="230.8" width="2.2" height="2.2" fill="#111"/>
<rect x="594.6" y="230.4" width="2.2" height="2.2" fill="#111"/>
<rect x="603.1" y="230.4" width="2.2" height="2.2" fill="#111"/>
<rect x="600.2" y="230.0" width="2.2" height="2.2" fill="#111"/>
<rect x="599.8" y="229.8" width="2.2" height="2.2" fill="#111"/>
<rect x="595.6" y="229.9" width="2.2" height="2.2" fill="#111"/>
<rect x="596.4" y="229.5" width="2.2" height="2.2" fill="#111"/>
<rect x="593.3" y="229.1" width="2.2" height="2.2" fill="#111"/>
<rect x="597.5" y="229.3" width="2.2" height="2.2" fill="#111"/>
<rect x="597.7" y="228.9" width="2.2" height="2.2" fill="#111"/>
<rect x="602.3" y="228.8" width="2.2" height="2.2" fill="#111"/>
<rect x="600.0" y="228.4" width="2.2" height="2.2" fill="#111"/>
<rect x="598.7" y="228.7" width="2.2" height="2.2" fill="#111"/>
<rect x="603.6" y="228.1" width="2.2" height="2.2" fill="#111"/>
<rect x="597.2" y="228.2" width="2.2" height="2.2" fill="#111"/>
<rect x="597.4" y="228.1" width="2.2" height="2.2" fill="#111"/>
<rect x="595.7" y="227.7" width="2.2" height="2.2" fill="#111"/>
<rect x="592.1" y="227.6" width="2.2" height="2.2" fill="#111"/>
<rect x="600.6" y="227.3" width="2.2" height="2.2" fill="#111"/>
<rect x="600.8" y="227.2" width="2.2" height="2.2" fill="#111"/>
<rect x="593.0" y="227.1" width="2.2" height="2.2" fill="#111"/>
<rect x="597.9" y="226.5" width="2.2" height="2.2" fill="#111"/>
<rect x="590.5" y="226.5" width="2.2" height="2.2" fill="#111"/>
<rect x="598.7" y="226.4" width="2.2" height="2.2" fill="#111"/>
<rect x="601.9" y="226.3" width="2.2" height="2.2" fill="#111"/>
<rect x="589.7" y="225.9" width="2.2" height="2.2" fill="#111"/>
<rect x="599.3" y="225.5" width="2.2" height="2.2" fill="#111"/>
<rect x="594.7" y="225.8" width="2.2" height="2.2" fill="#111"/>
<rect x="590.9" y="225.2" width="2.2" height="2.2" fill="#111"/>
<rect x="593.2" y="225.4" width="2.2" height="2.2" fill="#111"/>
<rect x="592.0" y="225.2" width="2.2" height="2.2" fill="#111"/>
<rect x="600.9" y="224.6" width="2.2" height="2.2" fill="#111"/>
<rect x="597.6" y="224.7" width="2.2" height="2.2" fill="#111"/>
<rect x="596.4" y="224.2" width="2.2" height="2.2" fill="#111"/>
<rect x="595.1" y="224.0" width="2.2" height="2.2" fill="#111"/>
<rect x="596.5" y="223.8" width="2.2" height="2.2" fill="#111"/>
<rect x="589.6" y="223.4" width="2.2" height="2.2" fill="#111"/>
<rect x="591.0" y="223.7" width="2.2" height="2.2" fill="#111"/>
<rect x="596.7" y="223.2" width="2.2" height="2.2" fill="#111"/>
<rect x="597.8" y="223.3" width="2.2" height="2.2" fill="#111"/>
<rect x="591.3" y="222.7" width="2.2" height="2.2" fill="#111"/>
<rect x="591.2" y="222.6" width="2.2" height="2.2" fill="#111"/>
<rect x="594.4" y="222.1" width="2.2" height="2.2" fill="#111"/>
<rect x="589.0" y="222.2" width="2.2" height="2.2" fill="#111"/>
<rect x="598.1" y="221.9" width="2.2" height="2.2" fill="#111"/>
<rect x="590.9" y="221.8" width="2.2" height="2.2" fill="#111"/>
<rect x="589.8" y="221.3" width="2.2" height="2.2" fill="#111"/>
<rect x="593.5" y="220.5" width="2.2" height="2.2" fill="#111"/>
<rect x="592.9" y="220.7" width="2.2" height="2.2" fill="#111"/>
<rect x="593.1" y="220.1" width="2.2" height="2.2" fill="#111"/>
<rect x="593.8" y="220.0" width="2.2" height="2.2" fill="#111"/>
<rect x="588.3" y="219.7" width="2.2" height="2.2" fill="#111"/>
<rect x="594.1" y="219.7" width="2.2" height="2.2" fill="#111"/>
<rect x="594.1" y="219.3" width="2.2" height="2.2" fill="#111"/>
<rect x="586.5" y="218.8" width="2.2" height="2.2" fill="#111"/>
<rect x="589.4" y="218.8" width="2.2" height="2.2" fill="#111"/>
<rect x="594.0" y="218.3" width="2.2" height="2.2" fill="#111"/>
<rect x="595.3" y="217.5" width="2.2" height="2.2" fill="#111"/>
<rect x="590.2" y="217.6" width="2.2" height="2.2" fill="#111"/>
<rect x="585.7" y="217.2" width="2.2" height="2.2" fill="#111"/>
<rect x="581.9" y="217.1" width="2.2" height="2.2" fill="#111"/>
<rect x="590.5" y="216.7" width="2.2" height="2.2" fill="#111"/>
<rect x="586.6" y="215.9" width="2.2" height="2.2" fill="#111"/>
<rect x="587.9" y="216.1" width="2.2" height="2.2" fill="#111"/>
<rect x="586.4" y="215.5" width="2.2" height="2.2" fill="#111"/>
<rect x="590.8" y="215.0" width="2.2" height="2.2" fill="#111"/>
<rect x="586.9" y="214.6" width="2.2" height="2.2" fill="#111"/>
<rect x="586.0" y="214.0" width="2.2" height="2.2" fill="#111"/>
<rect x="583.6" y="212.7" width="2.2" height="2.2" fill="#111"/>
<rect x="587.2" y="211.0" width="2.2" height="2.2" fill="#111"/>
<rect x="629.0" y="261.1" width="2.2" height="2.2" fill="#111"/>
<rect x="621.4" y="261.0" width="2.2" height="2.2" fill="#111"/>
<rect x="638.0" y="261.1" width="2.2" height="2.2" fill="#111"/>
<rect x="629.7" y="261.0" width="2.2" height="2.2" fill="#111"/>
<rect x="627.6" y="261.1" width="2.2" height="2.2" fill="#111"/>
<rect x="625.1" y="260.9" width="2.2" height="2.2" fill="#111"/>
<rect x="622.0" y="261.0" width="2.2" height="2.2" fill="#111"/>
<rect x="638.7" y="260.7" width="2.2" height="2.2" fill="#111"/>
<rect x="619.2" y="260.9" width="2.2" height="2.2" fill="#111"/>
<rect x="628.7" y="260.7" width="2.2" height="2.2" fill="#111"/>
<rect x="632.9" y="260.8" width="2.2" height="2.2" fill="#111"/>
<rect x="635.3" y="260.4" width="2.2" height="2.2" fill="#111"/>
<rect x="630.2" y="260.7" width="2.2" height="2.2" fill="#111"/>
<rect x="625.1" y="260.8" width="2.2" height="2.2" fill="#111"/>
<rect x="635.4" y="260.1" width="2.2" height="2.2" fill="#111"/>
<rect x="622.2" y="259.9" width="2.2" height="2.2" fill="#111"/>
<rect x="624.6" y="260.0" width="2.2" height="2.2" fill="#111"/>
<rect x="626.9" y="260.3" width="2.2" height="2.2" fill="#111"/>
<rect x="632.2" y="260.2" width="2.2" height="2.2" fill="#111"/>
<rect x="639.0" y="260.3" width="2.2" height="2.2" fill="#111"/>
<rect x="626.6" y="260.3" width="2.2" height="2.2" fill="#111"/>
<rect x="636.0" y="259.8" width="2.2" height="2.2" fill="#111"/>
<rect x="623.5" y="259.7" width="2.2" height="2.2" fill="#111"/>
<rect x="634.2" y="259.6" width="2.2" height="2.2" fill="#111"/>
<rect x="628.9" y="259.9" width="2.2" height="2.2" fill="#111"/>
<rect x="635.9" y="259.4" width="2.2" height="2.2" fill="#111"/>
<rect x="637.6" y="259.6" width="2.2" height="2.2" fill="#111"/>
<rect x="620.7" y="259.9" width="2.2" height="2.2" fill="#111"/>
<rect x="633.5" y="259.3" width="2.2" height="2.2" fill="#111"/>
<rect x="624.6" y="259.0" width="2.2" height="2.2" fill="#111"/>
<rect x="628.1" y="259.0" width="2.2" height="2.2" fill="#111"/>
<rect x="624.8" y="259.0" width="2.2" height="2.2" fill="#111"/>
<rect x="632.8" y="259.0" width="2.2" height="2.2" fill="#111"/>
<rect x="634.6" y="259.0" width="2.2" height="2.2" fill="#111"/>
<rect x="632.5" y="258.7" width="2.2" height="2.2" fill="#111"/>
<rect x="638.5" y="258.6" width="2.2" height="2.2" fill="#111"/>
<rect x="625.0" y="258.7" width="2.2" height="2.2" fill="#111"/>
<rect x="620.9" y="258.7" width="2.2" height="2.2" fill="#111"/>
<rect x="620.6" y="258.6" width="2.2" height="2.2" fill="#111"/>
<rect x="638.5" y="258.9" width="2.2" height="2.2" fill="#111"/>
<rect x="636.3" y="258.6" width="2.2" height="2.2" fill="#111"/>
<rect x="628.0" y="258.2" width="2.2" height="2.2" fill="#111"/>
<rect x="642.6" y="258.1" width="2.2" height="2.2" fill="#111"/>
<rect x="620.6" y="258.1" width="2.2" height="2.2" fill="#111"/>
<rect x="635.7" y="257.9" width="2.2" height="2.2" fill="#111"/>
<rect x="630.3" y="258.2" width="2.2" height="2.2" fill="#111"/>
<rect x="641.6" y="258.1" width="2.2" height="2.2" fill="#111"/>
<rect x="627.3" y="258.0" width="2.2" height="2.2" fill="#111"/>
<rect x="628.0" y="257.8" width="2.2" height="2.2" fill="#111"/>
<rect x="628.9" y="257.7" width="2.2" height="2.2" fill="#111"/>
<rect x="632.5" y="257.5" width="2.2" height="2.2" fill="#111"/>
<rect x="627.6" y="257.6" width="2.2" height="2.2" fill="#111"/>
<rect x="622.0" y="257.6" width="2.2" height="2.2" fill="#111"/>
<rect x="626.0" y="257.6" width="2.2" height="2.2" fill="#111"/>
<rect x="622.1" y="257.0" width="2.2" height="2.2" fill="#111"/>
<rect x="639.5" y="257.2" width="2.2" height="2.2" fill="#111"/>
<rect x="619.5" y="257.3" width="2.2" height="2.2" fill="#111"/>
<rect x="639.3" y="257.0" width="2.2" height="2.2" fill="#111"/>
<rect x="639.3" y="257.1" width="2.2" height="2.2" fill="#111"/>
<rect x="632.3" y="257.1" width="2.2" height="2.2" fill="#111"/>
<rect x="633.8" y="257.3" width="2.2" height="2.2" fill="#111"/>
<rect x="630.4" y="256.8" width="2.2" height="2.2" fill="#111"/>
<rect x="620.0" y="256.5" width="2.2" height="2.2" fill="#111"/>
<rect x="640.2" y="256.5" width="2.2" height="2.2" fill="#111"/>
<rect x="625.2" y="256.7" width="2.2" height="2.2" fill="#111"/>
<rect x="631.0" y="256.6" width="2.2" height="2.2" fill="#111"/>
<rect x="643.0" y="256.9" width="2.2" height="2.2" fill="#111"/>
<rect x="639.4" y="256.1" width="2.2" height="2.2" fill="#111"/>
<rect x="641.1" y="256.2" width="2.2" height="2.2" fill="#111"/>
<rect x="633.8" y="255.9" width="2.2" height="2.2" fill="#111"/>
<rect x="641.5" y="256.3" width="2.2" height="2.2" fill="#111"/>
<rect x="635.1" y="256.3" width="2.2" height="2.2" fill="#111"/>
<rect x="623.6" y="256.1" width="2.2" height="2.2" fill="#111"/>
<rect x="622.8" y="255.9" width="2.2" height="2.2" fill="#111"/>
<rect x="640.7" y="255.5" width="2.2" height="2.2" fill="#111"/>
<rect x="626.0" y="255.5" width="2.2" height="2.2" fill="#111"/>
<rect x="626.6" y="255.5" width="2.2" height="2.2" fill="#111"/>
<rect x="640.9" y="255.5" width="2.2" height="2.2" fill="#111"/>
<rect x="620.7" y="255.7" width="2.2" height="2.2" fill="#111"/>
<rect x="640.5" y="255.8" width="2.2" height="2.2" fill="#111"/>
<rect x="642.7" y="255.9" width="2.2" height="2.2" fill="#111"/>
<rect x="639.4" y="255.4" width="2.2" height="2.2" fill="#111"/>
<rect x="627.5" y="255.0" width="2.2" height="2.2" fill="#111"/>
<rect x="631.0" y="255.4" width="2.2" height="2.2" fill="#111"/>
<rect x="627.7" y="255.1" width="2.2" height="2.2" fill="#111"/>
<rect x="623.1" y="255.0" width="2.2" height="2.2" fill="#111"/>
<rect x="627.7" y="255.2" width="2.2" height="2.2" fill="#111"/>
<rect x="628.0" y="255.0" width="2.2" height="2.2" fill="#111"/>
<rect x="643.2" y="254.5" width="2.2" height="2.2" fill="#111"/>
<rect x="639.3" y="254.4" width="2.2" height="2.2" fill="#111"/>
<rect x="641.8" y="254.6" width="2.2" height="2.2" fill="#111"/>
<rect x="625.4" y="254.7" width="2.2" height="2.2" fill="#111"/>
<rect x="642.1" y="254.9" width="2.2" height="2.2" fill="#111"/>
<rect x="629.8" y="254.1" width="2.2" height="2.2" fill="#111"/>
<rect x="640.5" y="254.0" width="2.2" height="2.2" fill="#111"/>
<rect x="639.8" y="254.0" width="2.2" height="2.2" fill="#111"/>
<rect x="634.0" y="254.0" width="2.2" height="2.2" fill="#111"/>
<rect x="639.5" y="253.9" width="2.2" height="2.2" fill="#111"/>
<rect x="630.4" y="254.0" width="2.2" height="2.2" fill="#111"/>
<rect x="626.3" y="254.0" width="2.2" height="2.2" fill="#111"/>
<rect x="625.0" y="253.7" width="2.2" height="2.2" fill="#111"/>
<rect x="624.6" y="253.8" width="2.2" height="2.2" fill="#111"/>
<rect x="639.3" y="253.9" width="2.2" height="2.2" fill="#111"/>
<rect x="624.1" y="253.5" width="2.2" height="2.2" fill="#111"/>
<rect x="632.1" y="253.7" width="2.2" height="2.2" fill="#111"/>
<rect x="635.4" y="253.8" width="2.2" height="2.2" fill="#111"/>
<rect x="630.6" y="253.1" width="2.2" height="2.2" fill="#111"/>
<rect x="630.1" y="253.4" width="2.2" height="2.2" fill="#111"/>
<rect x="645.1" y="253.2" width="2.2" height="2.2" fill="#111"/>
<rect x="622.1" y="253.3" width="2.2" height="2.2" fill="#111"/>
<rect x="633.8" y="253.2" width="2.2" height="2.2" fill="#111"/>
<rect x="634.0" y="252.9" width="2.2" height="2.2" fill="#111"/>
<rect x="642.0" y="253.2" width="2.2" height="2.2" fill="#111"/>
<rect x="627.9" y="252.4" width="2.2" height="2.2" fill="#111"/>
<rect x="644.6" y="252.8" width="2.2" height="2.2" fill="#111"/>
<rect x="626.0" y="252.9" width="2.2" height="2.2" fill="#111"/>
<rect x="620.1" y="252.7" width="2.2" height="2.2" fill="#111"/>
<rect x="643.3" y="252.4" width="2.2" height="2.2" fill="#111"/>
<rect x="621.8" y="252.8" width="2.2" height="2.2" fill="#111"/>
<rect x="627.0" y="252.1" width="2.2" height="2.2" fill="#111"/>
<rect x="631.9" y="252.3" width="2.2" height="2.2" fill="#111"/>
<rect x="645.9" y="252.4" width="2.2" height="2.2" fill="#111"/>
<rect x="627.7" y="252.2" width="2.2" height="2.2" fill="#111"/>
<rect x="645.5" y="252.4" width="2.2" height="2.2" fill="#111"/>
<rect x="637.6" y="251.6" width="2.2" height="2.2" fill="#111"/>
<rect x="646.4" y="251.5" width="2.2" height="2.2" fill="#111"/>
<rect x="644.9" y="251.6" width="2.2" height="2.2" fill="#111"/>
<rect x="627.2" y="251.8" width="2.2" height="2.2" fill="#111"/>
<rect x="628.4" y="251.8" width="2.2" height="2.2" fill="#111"/>
<rect x="623.9" y="251.8" width="2.2" height="2.2" fill="#111"/>
<rect x="625.3" y="251.6" width="2.2" height="2.2" fill="#111"/>
<rect x="627.6" y="250.9" width="2.2" height="2.2" fill="#111"/>
<rect x="643.7" y="251.2" width="2.2" height="2.2" fill="#111"/>
<rect x="623.8" y="250.9" width="2.2" height="2.2" fill="#111"/>
<rect x="641.5" y="251.2" width="2.2" height="2.2" fill="#111"/>
<rect x="641.0" y="251.2" width="2.2" height="2.2" fill="#111"/>
<rect x="637.9" y="251.4" width="2.2" height="2.2" fill="#111"/>
<rect x="636.4" y="250.8" width="2.2" height="2.2" fill="#111"/>
<rect x="643.4" y="250.8" width="2.2" height="2.2" fill="#111"/>
<rect x="630.1" y="250.5" width="2.2" height="2.2" fill="#111"/>
<rect x="631.1" y="250.7" width="2.2" height="2.2" fill="#111"/>
<rect x="645.6" y="250.8" width="2.2" height="2.2" fill="#111"/>
<rect x="648.8" y="250.6" width="2.2" height="2.2" fill="#111"/>
<rect x="628.3" y="250.7" width="2.2" height="2.2" fill="#111"/>
<rect x="629.0" y="249.9" width="2.2" height="2.2" fill="#111"/>
<rect x="648.1" y="249.9" width="2.2" height="2.2" fill="#111"/>
<rect x="624.0" y="250.4" width="2.2" height="2.2" fill="#111"/>
<rect x="642.9" y="250.3" width="2.2" height="2.2" fill="#111"/>
<rect x="648.8" y="250.2" width="2.2" height="2.2" fill="#111"/>
<rect x="626.0" y="250.4" width="2.2" height="2.2" fill="#111"/>
<rect x="642.0" y="250.2" width="2.2" height="2.2" fill="#111"/>
<rect x="627.8" y="249.6" width="2.2" height="2.2" fill="#111"/>
<rect x="626.9" y="249.5" width="2.2" height="2.2" fill="#111"/>
<rect x="629.4" y="249.9" width="2.2" height="2.2" fill="#111"/>
<rect x="623.5" y="249.8" width="2.2" height="2.2" fill="#111"/>
<rect x="626.7" y="249.6" width="2.2" height="2.2" fill="#111"/>
<rect x="640.7" y="249.8" width="2.2" height="2.2" fill="#111"/>
<rect x="642.9" y="249.2" width="2.2" height="2.2" fill="#111"/>
<rect x="644.5" y="249.0" width="2.2" height="2.2" fill="#111"/>
<rect x="637.8" y="249.2" width="2.2" height="2.2" fill="#111"/>
<rect x="644.7" y="249.3" width="2.2" height="2.2" fill="#111"/>
<rect x="627.9" y="249.3" width="2.2" height="2.2" fill="#111"/>
<rect x="630.9" y="249.1" width="2.2" height="2.2" fill="#111"/>
<rect x="634.4" y="248.8" width="2.2" height="2.2" fill="#111"/>
<rect x="641.3" y="248.5" width="2.2" height="2.2" fill="#111"/>
<rect x="643.7" y="248.7" width="2.2" height="2.2" fill="#111"/>
<rect x="643.5" y="248.9" width="2.2" height="2.2" fill="#111"/>
<rect x="646.2" y="248.6" width="2.2" height="2.2" fill="#111"/>
<rect x="635.7" y="248.6" width="2.2" height="2.2" fill="#111"/>
<rect x="624.3" y="248.8" width="2.2" height="2.2" fill="#111"/>
<rect x="629.2" y="248.0" width="2.2" height="2.2" fill="#111"/>
<rect x="625.5" y="248.3" width="2.2" height="2.2" fill="#111"/>
<rect x="624.7" y="248.1" width="2.2" height="2.2" fill="#111"/>
<rect x="635.6" y="248.3" width="2.2" height="2.2" fill="#111"/>
<rect x="644.6" y="248.0" width="2.2" height="2.2" fill="#111"/>
<rect x="625.3" y="248.1" width="2.2" height="2.2" fill="#111"/>
<rect x="631.2" y="248.3" width="2.2" height="2.2" fill="#111"/>
<rect x="624.6" y="247.8" width="2.2" height="2.2" fill="#111"/>
<rect x="636.3" y="247.5" width="2.2" height="2.2" fill="#111"/>
<rect x="628.8" y="247.7" width="2.2" height="2.2" fill="#111"/>
<rect x="631.2" y="247.5" width="2.2" height="2.2" fill="#111"/>
<rect x="634.1" y="247.5" width="2.2" height="2.2" fill="#111"/>
<rect x="633.7" y="247.8" width="2.2" height="2.2" fill="#111"/>
<rect x="628.4" y="247.5" width="2.2" height="2.2" fill="#111"/>
<rect x="645.6" y="247.0" width="2.2" height="2.2" fill="#111"/>
<rect x="621.6" y="246.9" width="2.2" height="2.2" fill="#111"/>
<rect x="629.5" y="247.2" width="2.2" height="2.2" fill="#111"/>
<rect x="638.5" y="247.4" width="2.2" height="2.2" fill="#111"/>
<rect x="635.7" y="247.1" width="2.2" height="2.2" fill="#111"/>
<rect x="626.2" y="247.0" width="2.2" height="2.2" fill="#111"/>
<rect x="642.4" y="246.5" width="2.2" height="2.2" fill="#111"/>
<rect x="646.4" y="246.6" width="2.2" height="2.2" fill="#111"/>
<rect x="630.2" y="246.6" width="2.2" height="2.2" fill="#111"/>
<rect x="627.8" y="246.6" width="2.2" height="2.2" fill="#111"/>
<rect x="629.3" y="246.6" width="2.2" height="2.2" fill="#111"/>
<rect x="635.7" y="246.7" width="2.2" height="2.2" fill="#111"/>
<rect x="626.6" y="246.1" width="2.2" height="2.2" fill="#111"/>
<rect x="647.3" y="246.2" width="2.2" height="2.2" fill="#111"/>
<rect x="637.4" y="246.3" width="2.2" height="2.2" fill="#111"/>
<rect x="627.8" y="246.2" width="2.2" height="2.2" fill="#111"/>
<rect x="632.0" y="246.3" width="2.2" height="2.2" fill="#111"/>
<rect x="623.8" y="246.1" width="2.2" height="2.2" fill="#111"/>
<rect x="637.7" y="246.1" width="2.2" height="2.2" fill="#111"/>
<rect x="636.5" y="245.7" width="2.2" height="2.2" fill="#111"/>
<rect x="630.6" y="245.7" width="2.2" height="2.2" fill="#111"/>
<rect x="633.7" y="245.6" width="2.2" height="2.2" fill="#111"/>
<rect x="635.9" y="245.8" width="2.2" height="2.2" fill="#111"/>
<rect x="648.7" y="245.8" width="2.2" height="2.2" fill="#111"/>
<rect x="648.8" y="245.2" width="2.2" height="2.2" fill="#111"/>
<rect x="624.8" y="245.0" width="2.2" height="2.2" fill="#111"/>
<rect x="628.0" y="245.3" width="2.2" height="2.2" fill="#111"/>
<rect x="648.9" y="245.2" width="2.2" height="2.2" fill="#111"/>
<rect x="632.6" y="245.1" width="2.2" height="2.2" fill="#111"/>
<rect x="637.2" y="244.4" width="2.2" height="2.2" fill="#111"/>
<rect x="625.8" y="244.5" width="2.2" height="2.2" fill="#111"/>
<rect x="624.8" y="244.7" width="2.2" height="2.2" fill="#111"/>
<rect x="647.6" y="244.6" width="2.2" height="2.2" fill="#111"/>
<rect x="635.8" y="244.6" width="2.2" height="2.2" fill="#111"/>
<rect x="631.7" y="244.7" width="2.2" height="2.2" fill="#111"/>
<rect x="636.1" y="244.7" width="2.2" height="2.2" fill="#111"/>
<rect x="633.6" y="244.2" width="2.2" height="2.2" fill="#111"/>
<rect x="646.0" y="244.2" width="2.2" height="2.2" fill="#111"/>
<rect x="628.2" y="244.2" width="2.2" height="2.2" fill="#111"/>
<rect x="626.9" y="244.4" width="2.2" height="2.2" fill="#111"/>
<rect x="647.7" y="244.2" width="2.2" height="2.2" fill="#111"/>
<rect x="648.3" y="244.3" width="2.2" height="2.2" fill="#111"/>
<rect x="633.0" y="243.9" width="2.2" height="2.2" fill="#111"/>
<rect x="624.7" y="243.4" width="2.2" height="2.2" fill="#111"/>
<rect x="644.4" y="243.6" width="2.2" height="2.2" fill="#111"/>
<rect x="649.3" y="243.6" width="2.2" height="2.2" fill="#111"/>
<rect x="634.9" y="243.7" width="2.2" height="2.2" fill="#111"/>
<rect x="638.5" y="243.6" width="2.2" height="2.2" fill="#111"/>
<rect x="633.3" y="243.6" width="2.2" height="2.2" fill="#111"/>
<rect x="651.3" y="243.2" width="2.2" height="2.2" fill="#111"/>
<rect x="633.5" y="243.2" width="2.2" height="2.2" fill="#111"/>
<rect x="635.9" y="243.0" width="2.2" height="2.2" fill="#111"/>
<rect x="628.1" y="243.0" width="2.2" height="2.2" fill="#111"/>
<rect x="647.6" y="242.9" width="2.2" height="2.2" fill="#111"/>
<rect x="634.1" y="242.8" width="2.2" height="2.2" fill="#111"/>
<rect x="631.4" y="242.8" width="2.2" height="2.2" fill="#111"/>
<rect x="630.0" y="242.6" width="2.2" height="2.2" fill="#111"/>
<rect x="638.7" y="242.6" width="2.2" height="2.2" fill="#111"/>
<rect x="629.7" y="242.7" width="2.2" height="2.2" fill="#111"/>
<rect x="645.3" y="242.9" width="2.2" height="2.2" fill="#111"/>
<rect x="649.6" y="242.1" width="2.2" height="2.2" fill="#111"/>
<rect x="643.7" y="242.1" width="2.2" height="2.2" fill="#111"/>
<rect x="634.0" y="242.1" width="2.2" height="2.2" fill="#111"/>
<rect x="641.3" y="242.2" width="2.2" height="2.2" fill="#111"/>
<rect x="628.7" y="242.3" width="2.2" height="2.2" fill="#111"/>
<rect x="646.1" y="242.3" width="2.2" height="2.2" fill="#111"/>
<rect x="639.7" y="242.0" width="2.2" height="2.2" fill="#111"/>
<rect x="647.3" y="241.5" width="2.2" height="2.2" fill="#111"/>
<rect x="634.4" y="241.5" width="2.2" height="2.2" fill="#111"/>
<rect x="635.6" y="241.9" width="2.2" height="2.2" fill="#111"/>
<rect x="650.6" y="241.6" width="2.2" height="2.2" fill="#111"/>
<rect x="633.8" y="241.9" width="2.2" height="2.2" fill="#111"/>
<rect x="649.8" y="241.6" width="2.2" height="2.2" fill="#111"/>
<rect x="649.5" y="241.8" width="2.2" height="2.2" fill="#111"/>
<rect x="651.5" y="241.0" width="2.2" height="2.2" fill="#111"/>
<rect x="636.2" y="241.2" width="2.2" height="2.2" fill="#111"/>
<rect x="640.6" y="240.9" width="2.2" height="2.2" fill="#111"/>
<rect x="640.1" y="241.2" width="2.2" height="2.2" fill="#111"/>
<rect x="644.8" y="241.3" width="2.2" height="2.2" fill="#111"/>
<rect x="635.2" y="241.0" width="2.2" height="2.2" fill="#111"/>
<rect x="631.4" y="241.3" width="2.2" height="2.2" fill="#111"/>
<rect x="632.2" y="240.6" width="2.2" height="2.2" fill="#111"/>
<rect x="629.0" y="240.6" width="2.2" height="2.2" fill="#111"/>
<rect x="636.1" y="240.8" width="2.2" height="2.2" fill="#111"/>
<rect x="648.6" y="240.7" width="2.2" height="2.2" fill="#111"/>
<rect x="633.1" y="240.8" width="2.2" height="2.2" fill="#111"/>
<rect x="628.0" y="240.6" width="2.2" height="2.2" fill="#111"/>
<rect x="636.4" y="240.9" width="2.2" height="2.2" fill="#111"/>
<rect x="650.6" y="240.3" width="2.2" height="2.2" fill="#111"/>
<rect x="639.5" y="240.3" width="2.2" height="2.2" fill="#111"/>
<rect x="633.8" y="240.0" width="2.2" height="2.2" fill="#111"/>
<rect x="637.4" y="239.9" width="2.2" height="2.2" fill="#111"/>
<rect x="639.7" y="240.3" width="2.2" height="2.2" fill="#111"/>
<rect x="639.9" y="240.3" width="2.2" height="2.2" fill="#111"/>
<rect x="652.1" y="240.1" width="2.2" height="2.2" fill="#111"/>
<rect x="632.5" y="239.5" width="2.2" height="2.2" fill="#111"/>
<rect x="629.3" y="239.6" width="2.2" height="2.2" fill="#111"/>
<rect x="641.0" y="239.7" width="2.2" height="2.2" fill="#111"/>
<rect x="646.6" y="239.6" width="2.2" height="2.2" fill="#111"/>
<rect x="634.5" y="239.8" width="2.2" height="2.2" fill="#111"/>
<rect x="650.0" y="239.7" width="2.2" height="2.2" fill="#111"/>
<rect x="645.8" y="239.7" width="2.2" height="2.2" fill="#111"/>
<rect x="635.9" y="239.4" width="2.2" height="2.2" fill="#111"/>
<rect x="635.3" y="239.0" width="2.2" height="2.2" fill="#111"/>
<rect x="635.1" y="239.2" width="2.2" height="2.2" fill="#111"/>
<rect x="652.0" y="239.0" width="2.2" height="2.2" fill="#111"/>
<rect x="627.7" y="239.3" width="2.2" height="2.2" fill="#111"/>
<rect x="626.7" y="239.2" width="2.2" height="2.2" fill="#111"/>
<rect x="636.2" y="239.1" width="2.2" height="2.2" fill="#111"/>
<rect x="634.4" y="238.6" width="2.2" height="2.2" fill="#111"/>
<rect x="630.9" y="238.8" width="2.2" height="2.2" fill="#111"/>
<rect x="651.8" y="238.9" width="2.2" height="2.2" fill="#111"/>
<rect x="626.0" y="238.8" width="2.2" height="2.2" fill="#111"/>
<rect x="631.9" y="238.9" width="2.2" height="2.2" fill="#111"/>
<rect x="636.7" y="238.6" width="2.2" height="2.2" fill="#111"/>
<rect x="648.4" y="238.3" width="2.2" height="2.2" fill="#111"/>
<rect x="638.2" y="238.1" width="2.2" height="2.2" fill="#111"/>
<rect x="639.2" y="238.0" width="2.2" height="2.2" fill="#111"/>
<rect x="635.0" y="238.4" width="2.2" height="2.2" fill="#111"/>
<rect x="650.4" y="238.3" width="2.2" height="2.2" fill="#111"/>
<rect x="629.9" y="238.0" width="2.2" height="2.2" fill="#111"/>
<rect x="634.8" y="238.4" width="2.2" height="2.2" fill="#111"/>
<rect x="637.1" y="237.5" width="2.2" height="2.2" fill="#111"/>
<rect x="650.2" y="237.4" width="2.2" height="2.2" fill="#111"/>
<rect x="639.6" y="237.4" width="2.2" height="2.2" fill="#111"/>
<rect x="646.4" y="237.6" width="2.2" height="2.2" fill="#111"/>
<rect x="637.4" y="237.9" width="2.2" height="2.2" fill="#111"/>
<rect x="645.3" y="237.4" width="2.2" height="2.2" fill="#111"/>
<rect x="649.5" y="237.4" width="2.2" height="2.2" fill="#111"/>
<rect x="647.5" y="237.1" width="2.2" height="2.2" fill="#111"/>
<rect x="653.6" y="237.1" width="2.2" height="2.2" fill="#111"/>
<rect x="642.7" y="237.2" width="2.2" height="2.2" fill="#111"/>
<rect x="639.5" y="237.3" width="2.2" height="2.2" fill="#111"/>
<rect x="637.5" y="237.1" width="2.2" height="2.2" fill="#111"/>
<rect x="635.7" y="237.3" width="2.2" height="2.2" fill="#111"/>
<rect x="641.3" y="236.8" width="2.2" height="2.2" fill="#111"/>
<rect x="652.1" y="236.8" width="2.2" height="2.2" fill="#111"/>
<rect x="642.3" y="236.6" width="2.2" height="2.2" fill="#111"/>
<rect x="651.1" y="236.8" width="2.2" height="2.2" fill="#111"/>
<rect x="650.2" y="236.8" width="2.2" height="2.2" fill="#111"/>
<rect x="635.3" y="236.9" width="2.2" height="2.2" fill="#111"/>
<rect x="634.1" y="236.0" width="2.2" height="2.2" fill="#111"/>
<rect x="641.4" y="236.2" width="2.2" height="2.2" fill="#111"/>
<rect x="638.9" y="236.3" width="2.2" height="2.2" fill="#111"/>
<rect x="634.0" y="236.0" width="2.2" height="2.2" fill="#111"/>
<rect x="630.5" y="236.0" width="2.2" height="2.2" fill="#111"/>
<rect x="655.0" y="236.2" width="2.2" height="2.2" fill="#111"/>
<rect x="639.9" y="236.3" width="2.2" height="2.2" fill="#111"/>
<rect x="630.0" y="235.6" width="2.2" height="2.2" fill="#111"/>
<rect x="653.8" y="235.6" width="2.2" height="2.2" fill="#111"/>
<rect x="635.3" y="235.9" width="2.2" height="2.2" fill="#111"/>
<rect x="650.8" y="235.5" width="2.2" height="2.2" fill="#111"/>
<rect x="637.2" y="235.5" width="2.2" height="2.2" fill="#111"/>
<rect x="656.1" y="235.8" width="2.2" height="2.2" fill="#111"/>
<rect x="651.4" y="235.7" width="2.2" height="2.2" fill="#111"/>
<rect x="650.0" y="235.2" width="2.2" height="2.2" fill="#111"/>
<rect x="637.6" y="235.0" width="2.2" height="2.2" fill="#111"/>
<rect x="634.7" y="235.4" width="2.2" height="2.2" fill="#111"/>
<rect x="642.8" y="235.0" width="2.2" height="2.2" fill="#111"/>
<rect x="652.4" y="234.9" width="2.2" height="2.2" fill="#111"/>
<rect x="641.7" y="235.3" width="2.2" height="2.2" fill="#111"/>
<rect x="630.0" y="234.9" width="2.2" height="2.2" fill="#111"/>
<rect x="630.8" y="234.7" width="2.2" height="2.2" fill="#111"/>
<rect x="634.0" y="234.5" width="2.2" height="2.2" fill="#111"/>
<rect x="653.0" y="234.5" width="2.2" height="2.2" fill="#111"/>
<rect x="640.3" y="234.6" width="2.2" height="2.2" fill="#111"/>
<rect x="642.5" y="234.7" width="2.2" height="2.2" fill="#111"/>
<rect x="649.2" y="234.3" width="2.2" height="2.2" fill="#111"/>
<rect x="634.7" y="234.2" width="2.2" height="2.2" fill="#111"/>
<rect x="644.5" y="234.4" width="2.2" height="2.2" fill="#111"/>
<rect x="638.7" y="234.2" width="2.2" height="2.2" fill="#111"/>
<rect x="658.9" y="233.9" width="2.2" height="2.2" fill="#111"/>
<rect x="655.0" y="234.1" width="2.2" height="2.2" fill="#111"/>
<rect x="653.9" y="234.1" width="2.2" height="2.2" fill="#111"/>
<rect x="642.2" y="233.7" width="2.2" height="2.2" fill="#111"/>
<rect x="653.7" y="233.9" width="2.2" height="2.2" fill="#111"/>
<rect x="633.8" y="233.9" width="2.2" height="2.2" fill="#111"/>
<rect x="646.8" y="233.7" width="2.2" height="2.2" fill="#111"/>
<rect x="644.4" y="233.6" width="2.2" height="2.2" fill="#111"/>
<rect x="641.2" y="233.8" width="2.2" height="2.2" fill="#111"/>
<rect x="654.4" y="233.0" width="2.2" height="2.2" fill="#111"/>
<rect x="636.3" y="233.4" width="2.2" height="2.2" fill="#111"/>
<rect x="644.6" y="233.1" width="2.2" height="2.2" fill="#111"/>
<rect x="637.2" y="233.1" width="2.2" height="2.2" fill="#111"/>
<rect x="630.7" y="233.4" width="2.2" height="2.2" fill="#111"/>
<rect x="640.9" y="233.4" width="2.2" height="2.2" fill="#111"/>
<rect x="643.0" y="233.0" width="2.2" height="2.2" fill="#111"/>
<rect x="631.4" y="232.4" width="2.2" height="2.2" fill="#111"/>
<rect x="652.4" y="232.7" width="2.2" height="2.2" fill="#111"/>
<rect x="635.8" y="232.4" width="2.2" height="2.2" fill="#111"/>
<rect x="630.3" y="232.8" width="2.2" height="2.2" fill="#111"/>
<rect x="642.0" y="232.8" width="2.2" height="2.2" fill="#111"/>
<rect x="650.5" y="232.2" width="2.2" height="2.2" fill="#111"/>
<rect x="653.8" y="232.1" width="2.2" height="2.2" fill="#111"/>
<rect x="654.7" y="232.0" width="2.2" height="2.2" fill="#111"/>
<rect x="634.5" y="232.0" width="2.2" height="2.2" fill="#111"/>
<rect x="648.4" y="232.0" width="2.2" height="2.2" fill="#111"/>
<rect x="631.7" y="231.9" width="2.2" height="2.2" fill="#111"/>
<rect x="652.3" y="232.4" width="2.2" height="2.2" fill="#111"/>
<rect x="630.5" y="231.8" width="2.2" height="2.2" fill="#111"/>
<rect x="656.4" y="231.6" width="2.2" height="2.2" fill="#111"/>
<rect x="637.8" y="231.5" width="2.2" height="2.2" fill="#111"/>
<rect x="648.3" y="231.8" width="2.2" height="2.2" fill="#111"/>
<rect x="632.2" y="231.8" width="2.2" height="2.2" fill="#111"/>
<rect x="647.6" y="231.8" width="2.2" height="2.2" fill="#111"/>
<rect x="642.9" y="231.1" width="2.2" height="2.2" fill="#111"/>
<rect x="652.5" y="231.0" width="2.2" height="2.2" fill="#111"/>
<rect x="659.3" y="231.3" width="2.2" height="2.2" fill="#111"/>
<rect x="645.0" y="231.0" width="2.2" height="2.2" fill="#111"/>
<rect x="654.6" y="231.0" width="2.2" height="2.2" fill="#111"/>
<rect x="650.3" y="231.2" width="2.2" height="2.2" fill="#111"/>
<rect x="635.6" y="230.5" width="2.2" height="2.2" fill="#111"/>
<rect x="647.3" y="230.9" width="2.2" height="2.2" fill="#111"/>
<rect x="640.6" y="230.6" width="2.2" height="2.2" fill="#111"/>
<rect x="634.2" y="230.8" width="2.2" height="2.2" fill="#111"/>
<rect x="639.3" y="230.7" width="2.2" height="2.2" fill="#111"/>
<rect x="641.1" y="230.9" width="2.2" height="2.2" fill="#111"/>
<rect x="641.8" y="229.9" width="2.2" height="2.2" fill="#111"/>
<rect x="631.9" y="230.3" width="2.2" height="2.2" fill="#111"/>
<rect x="650.4" y="230.1" width="2.2" height="2.2" fill="#111"/>
<rect x="639.3" y="230.1" width="2.2" height="2.2" fill="#111"/>
<rect x="650.1" y="230.4" width="2.2" height="2.2" fill="#111"/>
<rect x="646.1" y="230.0" width="2.2" height="2.2" fill="#111"/>
<rect x="652.7" y="229.7" width="2.2" height="2.2" fill="#111"/>
<rect x="637.7" y="229.5" width="2.2" height="2.2" fill="#111"/>
<rect x="658.7" y="229.7" width="2.2" height="2.2" fill="#111"/>
<rect x="652.9" y="229.5" width="2.2" height="2.2" fill="#111"/>
<rect x="645.2" y="229.6" width="2.2" height="2.2" fill="#111"/>
<rect x="641.9" y="229.9" width="2.2" height="2.2" fill="#111"/>
<rect x="642.1" y="229.2" width="2.2" height="2.2" fill="#111"/>
<rect x="638.1" y="229.3" width="2.2" height="2.2" fill="#111"/>
<rect x="641.5" y="229.0" width="2.2" height="2.2" fill="#111"/>
<rect x="644.7" y="229.2" width="2.2" height="2.2" fill="#111"/>
<rect x="647.8" y="229.4" width="2.2" height="2.2" fill="#111"/>
<rect x="640.7" y="229.2" width="2.2" height="2.2" fill="#111"/>
<rect x="648.9" y="228.4" width="2.2" height="2.2" fill="#111"/>
<rect x="648.3" y="228.9" width="2.2" height="2.2" fill="#111"/>
<rect x="633.1" y="228.7" width="2.2" height="2.2" fill="#111"/>
<rect x="652.7" y="228.7" width="2.2" height="2.2" fill="#111"/>
<rect x="658.8" y="228.5" width="2.2" height="2.2" fill="#111"/>
<rect x="640.1" y="228.8" width="2.2" height="2.2" fill="#111"/>
<rect x="636.1" y="228.3" width="2.2" height="2.2" fill="#111"/>
<rect x="645.5" y="228.3" width="2.2" height="2.2" fill="#111"/>
<rect x="650.9" y="228.3" width="2.2" height="2.2" fill="#111"/>
<rect x="652.3" y="227.9" width="2.2" height="2.2" fill="#111"/>
<rect x="651.7" y="228.0" width="2.2" height="2.2" fill="#111"/>
<rect x="642.8" y="228.3" width="2.2" height="2.2" fill="#111"/>
<rect x="649.3" y="227.4" width="2.2" height="2.2" fill="#111"/>
<rect x="636.7" y="227.7" width="2.2" height="2.2" fill="#111"/>
<rect x="653.7" y="227.6" width="2.2" height="2.2" fill="#111"/>
<rect x="640.8" y="227.9" width="2.2" height="2.2" fill="#111"/>
<rect x="645.9" y="227.7" width="2.2" height="2.2" fill="#111"/>
<rect x="647.2" y="227.6" width="2.2" height="2.2" fill="#111"/>
<rect x="648.9" y="227.1" width="2.2" height="2.2" fill="#111"/>
<rect x="662.4" y="227.4" width="2.2" height="2.2" fill="#111"/>
<rect x="650.4" y="227.4" width="2.2" height="2.2" fill="#111"/>
<rect x="635.4" y="227.3" width="2.2" height="2.2" fill="#111"/>
<rect x="657.4" y="227.2" width="2.2" height="2.2" fill="#111"/>
<rect x="649.6" y="227.1" width="2.2" height="2.2" fill="#111"/>
<rect x="651.3" y="226.5" width="2.2" height="2.2" fill="#111"/>
<rect x="639.2" y="226.5" width="2.2" height="2.2" fill="#111"/>
<rect x="655.7" y="226.5" width="2.2" height="2.2" fill="#111"/>
<rect x="661.1" y="226.7" width="2.2" height="2.2" fill="#111"/>
<rect x="637.5" y="226.8" width="2.2" height="2.2" fill="#111"/>
<rect x="646.5" y="226.1" width="2.2" height="2.2" fill="#111"/>
<rect x="653.7" y="226.3" width="2.2" height="2.2" fill="#111"/>
<rect x="658.7" y="226.4" width="2.2" height="2.2" fill="#111"/>
<rect x="633.3" y="226.1" width="2.2" height="2.2" fill="#111"/>
<rect x="649.8" y="226.3" width="2.2" height="2.2" fill="#111"/>
<rect x="660.9" y="226.3" width="2.2" height="2.2" fill="#111"/>
<rect x="661.7" y="225.8" width="2.2" height="2.2" fill="#111"/>
<rect x="633.5" y="225.4" width="2.2" height="2.2" fill="#111"/>
<rect x="647.0" y="225.6" width="2.2" height="2.2" fill="#111"/>
<rect x="643.6" y="225.7" width="2.2" height="2.2" fill="#111"/>
<rect x="659.3" y="225.8" width="2.2" height="2.2" fill="#111"/>
<rect x="633.9" y="225.0" width="2.2" height="2.2" fill="#111"/>
<rect x="633.5" y="225.1" width="2.2" height="2.2" fill="#111"/>
<rect x="648.2" y="225.1" width="2.2" height="2.2" fill="#111"/>
<rect x="638.2" y="225.3" width="2.2" height="2.2" fill="#111"/>
<rect x="640.0" y="225.3" width="2.2" height="2.2" fill="#111"/>
<rect x="653.5" y="224.8" width="2.2" height="2.2" fill="#111"/>
<rect x="664.6" y="224.8" width="2.2" height="2.2" fill="#111"/>
<rect x="661.7" y="224.5" width="2.2" height="2.2" fill="#111"/>
<rect x="641.3" y="224.8" width="2.2" height="2.2" fill="#111"/>
<rect x="640.9" y="224.7" width="2.2" height="2.2" fill="#111"/>
<rect x="637.5" y="224.2" width="2.2" height="2.2" fill="#111"/>
<rect x="649.9" y="224.0" width="2.2" height="2.2" fill="#111"/>
<rect x="640.7" y="224.0" width="2.2" height="2.2" fill="#111"/>
<rect x="659.6" y="224.3" width="2.2" height="2.2" fill="#111"/>
<rect x="661.6" y="224.4" width="2.2" height="2.2" fill="#111"/>
<rect x="664.3" y="223.9" width="2.2" height="2.2" fill="#111"/>
<rect x="663.6" y="223.9" width="2.2" height="2.2" fill="#111"/>
<rect x="640.5" y="223.6" width="2.2" height="2.2" fill="#111"/>
<rect x="634.7" y="223.5" width="2.2" height="2.2" fill="#111"/>
<rect x="663.9" y="223.4" width="2.2" height="2.2" fill="#111"/>
<rect x="641.6" y="223.4" width="2.2" height="2.2" fill="#111"/>
<rect x="647.8" y="223.3" width="2.2" height="2.2" fill="#111"/>
<rect x="647.6" y="222.9" width="2.2" height="2.2" fill="#111"/>
<rect x="643.9" y="223.0" width="2.2" height="2.2" fill="#111"/>
<rect x="636.8" y="223.2" width="2.2" height="2.2" fill="#111"/>
<rect x="655.9" y="222.8" width="2.2" height="2.2" fill="#111"/>
<rect x="656.9" y="222.7" width="2.2" height="2.2" fill="#111"/>
<rect x="649.8" y="222.4" width="2.2" height="2.2" fill="#111"/>
<rect x="645.8" y="222.5" width="2.2" height="2.2" fill="#111"/>
<rect x="660.6" y="222.8" width="2.2" height="2.2" fill="#111"/>
<rect x="643.0" y="222.1" width="2.2" height="2.2" fill="#111"/>
<rect x="647.4" y="222.1" width="2.2" height="2.2" fill="#111"/>
<rect x="647.8" y="222.1" width="2.2" height="2.2" fill="#111"/>
<rect x="651.8" y="222.1" width="2.2" height="2.2" fill="#111"/>
<rect x="659.0" y="222.0" width="2.2" height="2.2" fill="#111"/>
<rect x="644.4" y="221.7" width="2.2" height="2.2" fill="#111"/>
<rect x="664.8" y="221.7" width="2.2" height="2.2" fill="#111"/>
<rect x="639.8" y="221.4" width="2.2" height="2.2" fill="#111"/>
<rect x="632.3" y="221.8" width="2.2" height="2.2" fill="#111"/>
<rect x="645.0" y="221.3" width="2.2" height="2.2" fill="#111"/>
<rect x="642.9" y="221.0" width="2.2" height="2.2" fill="#111"/>
<rect x="665.7" y="221.4" width="2.2" height="2.2" fill="#111"/>
<rect x="656.3" y="221.1" width="2.2" height="2.2" fill="#111"/>
<rect x="668.2" y="220.9" width="2.2" height="2.2" fill="#111"/>
<rect x="660.1" y="220.6" width="2.2" height="2.2" fill="#111"/>
<rect x="666.0" y="220.8" width="2.2" height="2.2" fill="#111"/>
<rect x="655.3" y="220.5" width="2.2" height="2.2" fill="#111"/>
<rect x="651.1" y="220.1" width="2.2" height="2.2" fill="#111"/>
<rect x="656.4" y="220.1" width="2.2" height="2.2" fill="#111"/>
<rect x="644.1" y="220.1" width="2.2" height="2.2" fill="#111"/>
<rect x="645.0" y="220.0" width="2.2" height="2.2" fill="#111"/>
<rect x="650.2" y="219.8" width="2.2" height="2.2" fill="#111"/>
<rect x="641.5" y="219.6" width="2.2" height="2.2" fill="#111"/>
<rect x="652.0" y="219.5" width="2.2" height="2.2" fill="#111"/>
<rect x="644.3" y="219.7" width="2.2" height="2.2" fill="#111"/>
<rect x="665.0" y="219.0" width="2.2" height="2.2" fill="#111"/>
<rect x="665.4" y="219.0" width="2.2" height="2.2" fill="#111"/>
<rect x="662.9" y="219.3" width="2.2" height="2.2" fill="#111"/>
<rect x="640.7" y="219.2" width="2.2" height="2.2" fill="#111"/>
<rect x="653.7" y="218.7" width="2.2" height="2.2" fill="#111"/>
<rect x="635.3" y="218.6" width="2.2" height="2.2" fill="#111"/>
<rect x="653.4" y="218.7" width="2.2" height="2.2" fill="#111"/>
<rect x="662.5" y="218.2" width="2.2" height="2.2" fill="#111"/>
<rect x="655.0" y="218.3" width="2.2" height="2.2" fill="#111"/>
<rect x="647.8" y="218.4" width="2.2" height="2.2" fill="#111"/>
<rect x="656.6" y="217.9" width="2.2" height="2.2" fill="#111"/>
<rect x="642.3" y="217.7" width="2.2" height="2.2" fill="#111"/>
<rect x="643.5" y="217.5" width="2.2" height="2.2" fill="#111"/>
<rect x="637.9" y="217.8" width="2.2" height="2.2" fill="#111"/>
<rect x="661.3" y="217.1" width="2.2" height="2.2" fill="#111"/>
<rect x="650.6" y="217.2" width="2.2" height="2.2" fill="#111"/>
<rect x="661.0" y="217.3" width="2.2" height="2.2" fill="#111"/>
<rect x="659.3" y="216.7" width="2.2" height="2.2" fill="#111"/>
<rect x="655.4" y="216.4" width="2.2" height="2.2" fill="#111"/>
<rect x="645.6" y="216.7" width="2.2" height="2.2" fill="#111"/>
<rect x="648.2" y="216.4" width="2.2" height="2.2" fill="#111"/>
<rect x="661.7" y="216.2" width="2.2" height="2.2" fill="#111"/>
<rect x="668.9" y="216.0" width="2.2" height="2.2" fill="#111"/>
<rect x="656.4" y="215.5" width="2.2" height="2.2" fill="#111"/>
<rect x="652.1" y="215.7" width="2.2" height="2.2" fill="#111"/>
<rect x="666.4" y="215.6" width="2.2" height="2.2" fill="#111"/>
<rect x="666.2" y="215.6" width="2.2" height="2.2" fill="#111"/>
<rect x="653.6" y="215.1" width="2.2" height="2.2" fill="#111"/>
<rect x="664.6" y="215.0" width="2.2" height="2.2" fill="#111"/>
<rect x="642.2" y="215.0" width="2.2" height="2.2" fill="#111"/>
<rect x="641.9" y="214.5" width="2.2" height="2.2" fill="#111"/>
<rect x="659.4" y="214.5" width="2.2" height="2.2" fill="#111"/>
<rect x="655.5" y="214.9" width="2.2" height="2.2" fill="#111"/>
<rect x="649.0" y="214.0" width="2.2" height="2.2" fill="#111"/>
<rect x="666.2" y="214.3" width="2.2" height="2.2" fill="#111"/>
<rect x="650.0" y="213.9" width="2.2" height="2.2" fill="#111"/>
<rect x="648.0" y="213.7" width="2.2" height="2.2" fill="#111"/>
<rect x="648.8" y="213.6" width="2.2" height="2.2" fill="#111"/>
<rect x="652.1" y="213.9" width="2.2" height="2.2" fill="#111"/>
<rect x="670.0" y="213.3" width="2.2" height="2.2" fill="#111"/>
<rect x="643.9" y="213.4" width="2.2" height="2.2" fill="#111"/>
<rect x="656.8" y="213.2" width="2.2" height="2.2" fill="#111"/>
<rect x="653.3" y="212.5" width="2.2" height="2.2" fill="#111"/>
<rect x="648.0" y="212.9" width="2.2" height="2.2" fill="#111"/>
<rect x="657.6" y="212.2" width="2.2" height="2.2" fill="#111"/>
<rect x="659.1" y="212.0" width="2.2" height="2.2" fill="#111"/>
<rect x="651.0" y="212.0" width="2.2" height="2.2" fill="#111"/>
<rect x="657.9" y="211.7" width="2.2" height="2.2" fill="#111"/>
<rect x="671.6" y="211.9" width="2.2" height="2.2" fill="#111"/>
<rect x="665.4" y="211.4" width="2.2" height="2.2" fill="#111"/>
<rect x="662.2" y="211.3" width="2.2" height="2.2" fill="#111"/>
<rect x="661.0" y="210.6" width="2.2" height="2.2" fill="#111"/>
<rect x="663.1" y="210.8" width="2.2" height="2.2" fill="#111"/>
<rect x="672.4" y="210.3" width="2.2" height="2.2" fill="#111"/>
<rect x="647.0" y="210.4" width="2.2" height="2.2" fill="#111"/>
<rect x="673.2" y="209.8" width="2.2" height="2.2" fill="#111"/>
<rect x="674.3" y="209.6" width="2.2" height="2.2" fill="#111"/>
<rect x="643.6" y="209.0" width="2.2" height="2.2" fill="#111"/>
<rect x="651.7" y="209.3" width="2.2" height="2.2" fill="#111"/>
<rect x="652.6" y="208.4" width="2.2" height="2.2" fill="#111"/>
<rect x="653.2" y="208.5" width="2.2" height="2.2" fill="#111"/>
<rect x="671.9" y="208.4" width="2.2" height="2.2" fill="#111"/>
<rect x="655.6" y="208.1" width="2.2" height="2.2" fill="#111"/>
<rect x="663.2" y="207.5" width="2.2" height="2.2" fill="#111"/>
<rect x="658.6" y="207.6" width="2.2" height="2.2" fill="#111"/>
<rect x="674.4" y="206.9" width="2.2" height="2.2" fill="#111"/>
<rect x="678.3" y="207.1" width="2.2" height="2.2" fill="#111"/>
<rect x="655.6" y="206.4" width="2.2" height="2.2" fill="#111"/>
<rect x="645.0" y="206.7" width="2.2" height="2.2" fill="#111"/>
<rect x="664.2" y="206.3" width="2.2" height="2.2" fill="#111"/>
<rect x="675.5" y="205.5" width="2.2" height="2.2" fill="#111"/>
<rect x="678.9" y="204.9" width="2.2" height="2.2" fill="#111"/>
<rect x="678.5" y="204.6" width="2.2" height="2.2" fill="#111"/>
<rect x="655.7" y="204.0" width="2.2" height="2.2" fill="#111"/>
<rect x="673.6" y="203.8" width="2.2" height="2.2" fill="#111"/>
<rect x="666.7" y="203.0" width="2.2" height="2.2" fill="#111"/>
<rect x="663.0" y="202.9" width="2.2" height="2.2" fill="#111"/>
<rect x="648.7" y="202.1" width="2.2" height="2.2" fill="#111"/>
<rect x="658.9" y="201.6" width="2.2" height="2.2" fill="#111"/>
<rect x="653.4" y="201.0" width="2.2" height="2.2" fill="#111"/>
<rect x="651.6" y="200.4" width="2.2" height="2.2" fill="#111"/>
<rect x="664.6" y="199.2" width="2.2" height="2.2" fill="#111"/>
<rect x="666.8" y="198.6" width="2.2" height="2.2" fill="#111"/>
<rect x="654.2" y="198.3" width="2.2" height="2.2" fill="#111"/>
<rect x="680.3" y="197.6" width="2.2" height="2.2" fill="#111"/>
<rect x="680.7" y="196.6" width="2.2" height="2.2" fill="#111"/>
<rect x="676.7" y="195.8" width="2.2" height="2.2" fill="#111"/>
<rect x="649.1" y="195.3" width="2.2" height="2.2" fill="#111"/>
<rect x="672.0" y="194.3" width="2.2" height="2.2" fill="#111"/>
<rect x="656.8" y="192.4" width="2.2" height="2.2" fill="#111"/>
<rect x="680.4" y="190.2" width="2.2" height="2.2" fill="#111"/>
<rect x="687.2" y="189.4" width="2.2" height="2.2" fill="#111"/>
<rect x="681.4" y="188.6" width="2.2" height="2.2" fill="#111"/>
<rect x="666.3" y="188.3" width="2.2" height="2.2" fill="#111"/>
<rect x="691.6" y="187.4" width="2.2" height="2.2" fill="#111"/>
<rect x="681.1" y="183.9" width="2.2" height="2.2" fill="#111"/>
<rect x="693.2" y="182.1" width="2.2" height="2.2" fill="#111"/>
<rect x="652.6" y="242.5" width="2.2" height="2.2" fill="#111"/>
<rect x="663.4" y="246.2" width="2.2" height="2.2" fill="#111"/>
<rect x="654.3" y="249.6" width="2.2" height="2.2" fill="#111"/>
<rect x="657.5" y="246.4" width="2.2" height="2.2" fill="#111"/>
<rect x="659.7" y="235.5" width="2.2" height="2.2" fill="#111"/>
<rect x="657.3" y="246.0" width="2.2" height="2.2" fill="#111"/>
<rect x="650.2" y="248.1" width="2.2" height="2.2" fill="#111"/>
<rect x="649.7" y="252.1" width="2.2" height="2.2" fill="#111"/>
<rect x="647.0" y="251.5" width="2.2" height="2.2" fill="#111"/>
<rect x="653.5" y="252.5" width="2.2" height="2.2" fill="#111"/>
<rect x="677.0" y="220.2" width="2.2" height="2.2" fill="#111"/>
<rect x="669.7" y="219.3" width="2.2" height="2.2" fill="#111"/>
<rect x="662.4" y="229.5" width="2.2" height="2.2" fill="#111"/>
<rect x="671.9" y="231.1" width="2.2" height="2.2" fill="#111"/>
<rect x="660.0" y="239.7" width="2.2" height="2.2" fill="#111"/>
<rect x="670.8" y="226.5" width="2.2" height="2.2" fill="#111"/>
<rect x="656.2" y="244.6" width="2.2" height="2.2" fill="#111"/>
<rect x="655.2" y="251.3" width="2.2" height="2.2" fill="#111"/>
<rect x="663.2" y="227.2" width="2.2" height="2.2" fill="#111"/>
<rect x="663.9" y="238.3" width="2.2" height="2.2" fill="#111"/>
<rect x="669.5" y="224.2" width="2.2" height="2.2" fill="#111"/>
<rect x="657.2" y="246.5" width="2.2" height="2.2" fill="#111"/>
<rect x="590.6" y="215.5" width="2.2" height="2.2" fill="#111"/>
<rect x="589.7" y="215.6" width="2.2" height="2.2" fill="#111"/>
<rect x="588.3" y="213.2" width="2.2" height="2.2" fill="#111"/>
<rect x="584.0" y="213.9" width="2.2" height="2.2" fill="#111"/>
<rect x="585.3" y="217.2" width="2.2" height="2.2" fill="#111"/>
<rect x="584.1" y="217.9" width="2.2" height="2.2" fill="#111"/>
<rect x="584.5" y="213.9" width="2.2" height="2.2" fill="#111"/>
<rect x="589.6" y="216.5" width="2.2" height="2.2" fill="#111"/>
<rect x="585.8" y="213.1" width="2.2" height="2.2" fill="#111"/>
<rect x="584.5" y="212.8" width="2.2" height="2.2" fill="#111"/>
<rect x="590.0" y="217.4" width="2.2" height="2.2" fill="#111"/>
<rect x="591.3" y="216.2" width="2.2" height="2.2" fill="#111"/>
<rect x="588.2" y="217.4" width="2.2" height="2.2" fill="#111"/>
<rect x="590.2" y="214.8" width="2.2" height="2.2" fill="#111"/>
<rect x="587.7" y="218.6" width="2.2" height="2.2" fill="#111"/>
<rect x="583.3" y="213.3" width="2.2" height="2.2" fill="#111"/>
<rect x="550.7" y="181.9" width="2.2" height="2.2" fill="#111"/>
<rect x="566.9" y="181.2" width="2.2" height="2.2" fill="#111"/>
<rect x="560.3" y="186.8" width="2.2" height="2.2" fill="#111"/>
<rect x="563.6" y="186.1" width="2.2" height="2.2" fill="#111"/>
<rect x="552.5" y="192.0" width="2.2" height="2.2" fill="#111"/>
<rect x="566.5" y="190.7" width="2.2" height="2.2" fill="#111"/>
<rect x="571.1" y="192.7" width="2.2" height="2.2" fill="#111"/>
<rect x="567.3" y="196.6" width="2.2" height="2.2" fill="#111"/>
<rect x="570.9" y="196.0" width="2.2" height="2.2" fill="#111"/>
<rect x="572.2" y="197.3" width="2.2" height="2.2" fill="#111"/>
<rect x="568.2" y="199.9" width="2.2" height="2.2" fill="#111"/>
<rect x="569.6" y="199.3" width="2.2" height="2.2" fill="#111"/>
<rect x="570.9" y="202.6" width="2.2" height="2.2" fill="#111"/>
<rect x="576.1" y="201.2" width="2.2" height="2.2" fill="#111"/>
<rect x="579.7" y="202.6" width="2.2" height="2.2" fill="#111"/>
<rect x="573.5" y="204.5" width="2.2" height="2.2" fill="#111"/>
<rect x="575.2" y="204.5" width="2.2" height="2.2" fill="#111"/>
<rect x="572.6" y="207.4" width="2.2" height="2.2" fill="#111"/>
<rect x="580.1" y="207.8" width="2.2" height="2.2" fill="#111"/>
<rect x="579.2" y="209.5" width="2.2" height="2.2" fill="#111"/>
<rect x="566.9" y="210.9" width="2.2" height="2.2" fill="#111"/>
<rect x="573.5" y="211.4" width="2.2" height="2.2" fill="#111"/>
<rect x="582.1" y="211.8" width="2.2" height="2.2" fill="#111"/>
<rect x="591.9" y="209.1" width="2.2" height="2.2" fill="#111"/>
<rect x="592.6" y="210.9" width="2.2" height="2.2" fill="#111"/>
<rect x="606.1" y="208.1" width="2.2" height="2.2" fill="#111"/>
<rect x="615.6" y="199.6" width="2.2" height="2.2" fill="#111"/>
<rect x="616.0" y="217.9" width="2.2" height="2.2" fill="#111"/>
<rect x="612.4" y="227.0" width="2.2" height="2.2" fill="#111"/>
<rect x="604.2" y="220.7" width="2.2" height="2.2" fill="#111"/>
<rect x="579.9" y="226.1" width="2.2" height="2.2" fill="#111"/>
<rect x="596.1" y="240.6" width="2.2" height="2.2" fill="#111"/>
<rect x="610.6" y="235.1" width="2.2" height="2.2" fill="#111"/>
<rect x="613.3" y="234.2" width="2.2" height="2.2" fill="#111"/>
<rect x="607.1" y="229.8" width="2.2" height="2.2" fill="#111"/>
<rect x="612.1" y="227.2" width="2.2" height="2.2" fill="#111"/>
<rect x="651.5" y="178.9" width="2.2" height="2.2" fill="#111"/>
<rect x="653.9" y="179.9" width="2.2" height="2.2" fill="#111"/>
<rect x="657.1" y="182.2" width="2.2" height="2.2" fill="#111"/>
<rect x="670.6" y="182.2" width="2.2" height="2.2" fill="#111"/>
<rect x="673.9" y="180.9" width="2.2" height="2.2" fill="#111"/>
<rect x="671.3" y="184.8" width="2.2" height="2.2" fill="#111"/>
<rect x="700.9" y="180.2" width="2.2" height="2.2" fill="#111"/>
<rect x="701.9" y="182.9" width="2.2" height="2.2" fill="#111"/>
<rect x="653.5" y="187.7" width="2.2" height="2.2" fill="#111"/>
<rect x="658.8" y="188.8" width="2.2" height="2.2" fill="#111"/>
<rect x="662.1" y="186.1" width="2.2" height="2.2" fill="#111"/>
<rect x="662.7" y="188.4" width="2.2" height="2.2" fill="#111"/>
<rect x="663.9" y="189.2" width="2.2" height="2.2" fill="#111"/>
<rect x="666.7" y="187.5" width="2.2" height="2.2" fill="#111"/>
<rect x="669.9" y="188.8" width="2.2" height="2.2" fill="#111"/>
<rect x="689.7" y="186.1" width="2.2" height="2.2" fill="#111"/>
<rect x="695.6" y="189.4" width="2.2" height="2.2" fill="#111"/>
<rect x="713.4" y="187.5" width="2.2" height="2.2" fill="#111"/>
<rect x="688.4" y="191.4" width="2.2" height="2.2" fill="#111"/>
<rect x="675.9" y="191.4" width="2.2" height="2.2" fill="#111"/>
<rect x="658.1" y="193.1" width="2.2" height="2.2" fill="#111"/>
<rect x="688.2" y="190.9" width="2.2" height="2.2" fill="#111"/>
<rect x="695.6" y="189.6" width="2.2" height="2.2" fill="#111"/>
<rect x="707.2" y="200.8" width="2.2" height="2.2" fill="#111"/>
<rect x="717.8" y="229.6" width="2.2" height="2.2" fill="#111"/>
<rect x="675.1" y="246.2" width="2.2" height="2.2" fill="#111"/>
<rect x="680.0" y="260.5" width="2.2" height="2.2" fill="#111"/>
<rect x="675.8" y="192.6" width="2.2" height="2.2" fill="#111"/>
<rect x="676.3" y="196.3" width="2.2" height="2.2" fill="#111"/>
<rect x="683.7" y="198.8" width="2.2" height="2.2" fill="#111"/>
<rect x="688.2" y="206.7" width="2.2" height="2.2" fill="#111"/>
<rect x="692.4" y="206.7" width="2.2" height="2.2" fill="#111"/>
<rect x="684.2" y="214.3" width="2.2" height="2.2" fill="#111"/>
<rect x="652.8" y="179.4" width="2.2" height="2.2" fill="#111"/>
<rect x="673.4" y="180.5" width="2.2" height="2.2" fill="#111"/>
<rect x="653.6" y="188.1" width="2.2" height="2.2" fill="#111"/>
<rect x="677.5" y="193.4" width="2.2" height="2.2" fill="#111"/>
<rect x="689.0" y="186.8" width="2.2" height="2.2" fill="#111"/>
<rect x="652.0" y="198.3" width="2.2" height="2.2" fill="#111"/>
<rect x="662.7" y="195.8" width="2.2" height="2.2" fill="#111"/>
<rect x="664.3" y="198.3" width="2.2" height="2.2" fill="#111"/>
<rect x="658.6" y="201.6" width="2.2" height="2.2" fill="#111"/>
<rect x="665.2" y="201.6" width="2.2" height="2.2" fill="#111"/>
<rect x="675.9" y="196.6" width="2.2" height="2.2" fill="#111"/>
<rect x="683.3" y="198.3" width="2.2" height="2.2" fill="#111"/>
<rect x="684.9" y="199.9" width="2.2" height="2.2" fill="#111"/>
<rect x="659.4" y="205.7" width="2.2" height="2.2" fill="#111"/>
<rect x="663.5" y="206.5" width="2.2" height="2.2" fill="#111"/>
<rect x="668.5" y="205.7" width="2.2" height="2.2" fill="#111"/>
<rect x="675.0" y="206.5" width="2.2" height="2.2" fill="#111"/>
<rect x="678.3" y="207.3" width="2.2" height="2.2" fill="#111"/>
<rect x="691.5" y="206.5" width="2.2" height="2.2" fill="#111"/>
<rect x="643.8" y="206.5" width="2.2" height="2.2" fill="#111"/>
<rect x="650.4" y="205.7" width="2.2" height="2.2" fill="#111"/>
<rect x="670.1" y="204.9" width="2.2" height="2.2" fill="#111"/>
<rect x="673.8" y="205.7" width="2.2" height="2.2" fill="#111"/>
<rect x="678.8" y="206.7" width="2.2" height="2.2" fill="#111"/>
<rect x="672.6" y="213.6" width="2.2" height="2.2" fill="#111"/>
<rect x="675.1" y="209.9" width="2.2" height="2.2" fill="#111"/>
<rect x="672.6" y="221.0" width="2.2" height="2.2" fill="#111"/>
<rect x="678.8" y="220.5" width="2.2" height="2.2" fill="#111"/>
<line x1="409.4" y1="178.6" x2="781.3" y2="178.6" stroke="#de2048" stroke-width="1.7" stroke-dasharray="5 3.65" stroke-dashoffset="2.15"/>
<rect x="423.20" y="30.60" width="5.2" height="5.2" fill="#e41c28"/>
<rect x="424.40" y="31.80" width="2.8" height="2.8" fill="#eeb4bc"/>
<rect x="425.00" y="32.40" width="2" height="2" fill="#000"/>
<rect x="445.30" y="55.30" width="5.2" height="5.2" fill="#e41c28"/>
<rect x="446.50" y="56.50" width="2.8" height="2.8" fill="#eeb4bc"/>
<rect x="447.10" y="57.10" width="2" height="2" fill="#000"/>
<rect x="469.10" y="67.00" width="5.2" height="5.2" fill="#e41c28"/>
<rect x="470.30" y="68.20" width="2.8" height="2.8" fill="#eeb4bc"/>
<rect x="470.90" y="68.80" width="2" height="2" fill="#000"/>
<rect x="481.80" y="93.90" width="5.2" height="5.2" fill="#e41c28"/>
<rect x="483.00" y="95.10" width="2.8" height="2.8" fill="#eeb4bc"/>
<rect x="483.60" y="95.70" width="2" height="2" fill="#000"/>
<rect x="473.40" y="110.90" width="5.2" height="5.2" fill="#e41c28"/>
<rect x="474.60" y="112.10" width="2.8" height="2.8" fill="#eeb4bc"/>
<rect x="475.20" y="112.70" width="2" height="2" fill="#000"/>
<rect x="500.00" y="100.70" width="5.2" height="5.2" fill="#e41c28"/>
<rect x="501.20" y="101.90" width="2.8" height="2.8" fill="#eeb4bc"/>
<rect x="501.80" y="102.50" width="2" height="2" fill="#000"/>
<rect x="504.00" y="106.70" width="5.2" height="5.2" fill="#e41c28"/>
<rect x="505.20" y="107.90" width="2.8" height="2.8" fill="#eeb4bc"/>
<rect x="505.80" y="108.50" width="2" height="2" fill="#000"/>
<rect x="503.80" y="112.80" width="5.2" height="5.2" fill="#e41c28"/>
<rect x="505.00" y="114.00" width="2.8" height="2.8" fill="#eeb4bc"/>
<rect x="505.60" y="114.60" width="2" height="2" fill="#000"/>
<rect x="512.10" y="114.50" width="5.2" height="5.2" fill="#e41c28"/>
<rect x="513.30" y="115.70" width="2.8" height="2.8" fill="#eeb4bc"/>
<rect x="513.90" y="116.30" width="2" height="2" fill="#000"/>
<rect x="532.90" y="116.00" width="5.2" height="5.2" fill="#e41c28"/>
<rect x="534.10" y="117.20" width="2.8" height="2.8" fill="#eeb4bc"/>
<rect x="534.70" y="117.80" width="2" height="2" fill="#000"/>
<rect x="508.60" y="120.60" width="5.2" height="5.2" fill="#e41c28"/>
<rect x="509.80" y="121.80" width="2.8" height="2.8" fill="#eeb4bc"/>
<rect x="510.40" y="122.40" width="2" height="2" fill="#000"/>
<rect x="513.40" y="123.60" width="5.2" height="5.2" fill="#e41c28"/>
<rect x="514.60" y="124.80" width="2.8" height="2.8" fill="#eeb4bc"/>
<rect x="515.20" y="125.40" width="2" height="2" fill="#000"/>
<rect x="515.70" y="125.60" width="5.2" height="5.2" fill="#e41c28"/>
<rect x="516.90" y="126.80" width="2.8" height="2.8" fill="#eeb4bc"/>
<rect x="517.50" y="127.40" width="2" height="2" fill="#000"/>
<rect x="528.90" y="127.80" width="5.2" height="5.2" fill="#e41c28"/>
<rect x="530.10" y="129.00" width="2.8" height="2.8" fill="#eeb4bc"/>
<rect x="530.70" y="129.60" width="2" height="2" fill="#000"/>
<rect x="525.40" y="133.70" width="5.2" height="5.2" fill="#e41c28"/>
<rect x="526.60" y="134.90" width="2.8" height="2.8" fill="#eeb4bc"/>
<rect x="527.20" y="135.50" width="2" height="2" fill="#000"/>
<rect x="516.20" y="142.30" width="5.2" height="5.2" fill="#e41c28"/>
<rect x="517.40" y="143.50" width="2.8" height="2.8" fill="#eeb4bc"/>
<rect x="518.00" y="144.10" width="2" height="2" fill="#000"/>
<rect x="508.00" y="145.20" width="5.2" height="5.2" fill="#e41c28"/>
<rect x="509.20" y="146.40" width="2.8" height="2.8" fill="#eeb4bc"/>
<rect x="509.80" y="147.00" width="2" height="2" fill="#000"/>
<rect x="537.50" y="145.90" width="5.2" height="5.2" fill="#e41c28"/>
<rect x="538.70" y="147.10" width="2.8" height="2.8" fill="#eeb4bc"/>
<rect x="539.30" y="147.70" width="2" height="2" fill="#000"/>
<rect x="558.90" y="149.90" width="5.2" height="5.2" fill="#e41c28"/>
<rect x="560.10" y="151.10" width="2.8" height="2.8" fill="#eeb4bc"/>
<rect x="560.70" y="151.70" width="2" height="2" fill="#000"/>
<rect x="539.00" y="155.60" width="5.2" height="5.2" fill="#e41c28"/>
<rect x="540.20" y="156.80" width="2.8" height="2.8" fill="#eeb4bc"/>
<rect x="540.80" y="157.40" width="2" height="2" fill="#000"/>
<rect x="530.60" y="163.80" width="5.2" height="5.2" fill="#e41c28"/>
<rect x="531.80" y="165.00" width="2.8" height="2.8" fill="#eeb4bc"/>
<rect x="532.40" y="165.60" width="2" height="2" fill="#000"/>
<rect x="555.30" y="168.60" width="5.2" height="5.2" fill="#e41c28"/>
<rect x="556.50" y="169.80" width="2.8" height="2.8" fill="#eeb4bc"/>
<rect x="557.10" y="170.40" width="2" height="2" fill="#000"/>
<rect x="551.60" y="171.70" width="5.2" height="5.2" fill="#e41c28"/>
<rect x="552.80" y="172.90" width="2.8" height="2.8" fill="#eeb4bc"/>
<rect x="553.40" y="173.50" width="2" height="2" fill="#000"/>
<rect x="547.30" y="174.80" width="5.2" height="5.2" fill="#e41c28"/>
<rect x="548.50" y="176.00" width="2.8" height="2.8" fill="#eeb4bc"/>
<rect x="549.10" y="176.60" width="2" height="2" fill="#000"/>
<rect x="559.20" y="175.80" width="5.2" height="5.2" fill="#e41c28"/>
<rect x="560.40" y="177.00" width="2.8" height="2.8" fill="#eeb4bc"/>
<rect x="561.00" y="177.60" width="2" height="2" fill="#000"/>
<rect x="657.30" y="165.60" width="5.2" height="5.2" fill="#e41c28"/>
<rect x="658.50" y="166.80" width="2.8" height="2.8" fill="#eeb4bc"/>
<rect x="659.10" y="167.40" width="2" height="2" fill="#000"/>
<rect x="679.00" y="162.00" width="5.2" height="5.2" fill="#e41c28"/>
<rect x="680.20" y="163.20" width="2.8" height="2.8" fill="#eeb4bc"/>
<rect x="680.80" y="163.80" width="2" height="2" fill="#000"/>
<rect x="685.60" y="165.60" width="5.2" height="5.2" fill="#e41c28"/>
<rect x="686.80" y="166.80" width="2.8" height="2.8" fill="#eeb4bc"/>
<rect x="687.40" y="167.40" width="2" height="2" fill="#000"/>
<rect x="675.00" y="167.50" width="5.2" height="5.2" fill="#e41c28"/>
<rect x="676.20" y="168.70" width="2.8" height="2.8" fill="#eeb4bc"/>
<rect x="676.80" y="169.30" width="2" height="2" fill="#000"/>
<rect x="671.10" y="173.20" width="5.2" height="5.2" fill="#e41c28"/>
<rect x="672.30" y="174.40" width="2.8" height="2.8" fill="#eeb4bc"/>
<rect x="672.90" y="175.00" width="2" height="2" fill="#000"/>
<rect x="678.60" y="172.80" width="5.2" height="5.2" fill="#e41c28"/>
<rect x="679.80" y="174.00" width="2.8" height="2.8" fill="#eeb4bc"/>
<rect x="680.40" y="174.60" width="2" height="2" fill="#000"/>
<rect x="700.10" y="169.00" width="5.2" height="5.2" fill="#e41c28"/>
<rect x="701.30" y="170.20" width="2.8" height="2.8" fill="#eeb4bc"/>
<rect x="701.90" y="170.80" width="2" height="2" fill="#000"/>
<rect x="715.90" y="169.00" width="5.2" height="5.2" fill="#e41c28"/>
<rect x="717.10" y="170.20" width="2.8" height="2.8" fill="#eeb4bc"/>
<rect x="717.70" y="170.80" width="2" height="2" fill="#000"/>
<rect x="699.00" y="121.80" width="5.2" height="5.2" fill="#e41c28"/>
<rect x="700.20" y="123.00" width="2.8" height="2.8" fill="#eeb4bc"/>
<rect x="700.80" y="123.60" width="2" height="2" fill="#000"/>
<rect x="708.50" y="147.90" width="5.2" height="5.2" fill="#e41c28"/>
<rect x="709.70" y="149.10" width="2.8" height="2.8" fill="#eeb4bc"/>
<rect x="710.30" y="149.70" width="2" height="2" fill="#000"/>
<rect x="760.00" y="81.90" width="5.2" height="5.2" fill="#e41c28"/>
<rect x="761.20" y="83.10" width="2.8" height="2.8" fill="#eeb4bc"/>
<rect x="761.80" y="83.70" width="2" height="2" fill="#000"/>
<rect x="746.00" y="117.50" width="5.2" height="5.2" fill="#e41c28"/>
<rect x="747.20" y="118.70" width="2.8" height="2.8" fill="#eeb4bc"/>
<rect x="747.80" y="119.30" width="2" height="2" fill="#000"/>
<rect x="733.90" y="132.50" width="5.2" height="5.2" fill="#e41c28"/>
<rect x="735.10" y="133.70" width="2.8" height="2.8" fill="#eeb4bc"/>
<rect x="735.70" y="134.30" width="2" height="2" fill="#000"/>
<rect x="748.20" y="166.00" width="5.2" height="5.2" fill="#e41c28"/>
<rect x="749.40" y="167.20" width="2.8" height="2.8" fill="#eeb4bc"/>
<rect x="750.00" y="167.80" width="2" height="2" fill="#000"/>
</svg>
</body></html>
